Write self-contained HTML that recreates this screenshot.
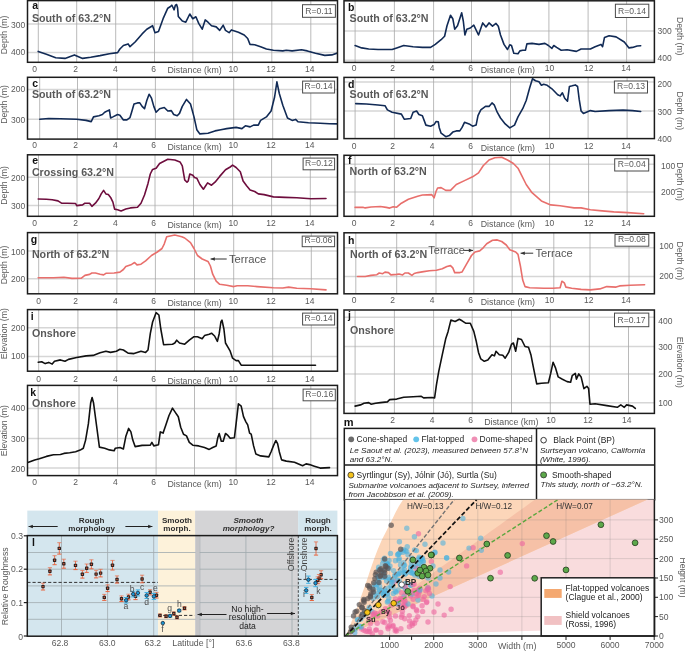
<!DOCTYPE html><html><head><meta charset="utf-8"><style>html,body{margin:0;padding:0;background:#fff;}svg{display:block;}</style></head><body><svg style="will-change:transform" width="685" height="652" viewBox="0 0 685 652" font-family='"Liberation Sans", sans-serif'>
<rect width="685" height="652" fill="#fff"/>
<clipPath id="ca"><rect x="27.5" y="0.6" width="310.0" height="61.699999999999996"/></clipPath>
<rect x="27.5" y="0.6" width="310.0" height="61.699999999999996" fill="#fff"/>
<g clip-path="url(#ca)">
<line x1="27.5" y1="24" x2="337.5" y2="24" stroke="#d6d6d6" stroke-width="1.5"/>
<line x1="27.5" y1="52.4" x2="337.5" y2="52.4" stroke="#d6d6d6" stroke-width="1.5"/>
<line x1="38.3" y1="0.6" x2="38.3" y2="62.3" stroke="#a8a8a8" stroke-width="0.8"/>
<line x1="76.7" y1="0.6" x2="76.7" y2="62.3" stroke="#a8a8a8" stroke-width="0.8"/>
<line x1="115.7" y1="0.6" x2="115.7" y2="62.3" stroke="#a8a8a8" stroke-width="0.8"/>
<line x1="154.5" y1="0.6" x2="154.5" y2="62.3" stroke="#a8a8a8" stroke-width="0.8"/>
<line x1="192.8" y1="0.6" x2="192.8" y2="62.3" stroke="#a8a8a8" stroke-width="0.8"/>
<line x1="232.6" y1="0.6" x2="232.6" y2="62.3" stroke="#a8a8a8" stroke-width="0.8"/>
<line x1="271.8" y1="0.6" x2="271.8" y2="62.3" stroke="#a8a8a8" stroke-width="0.8"/>
<line x1="310.8" y1="0.6" x2="310.8" y2="62.3" stroke="#a8a8a8" stroke-width="0.8"/>
<polyline points="38.2,51.4 46.4,54.2 55.7,57.7 65.0,58.4 74.4,54.9 82.6,58.4 90.7,57.2 100.0,55.6 109.4,53.7 117.6,52.6 119.9,49.0 123.4,45.5 128.1,43.9 130.0,46.7 135.1,42.0 142.1,33.9 146.8,29.2 152.6,25.7 155.0,32.7 158.5,31.5 163.1,18.7 167.8,8.2 170.5,6.5 171.8,5.2 173.0,7.5 174.1,9.8 175.3,5.5 176.6,4.5 177.6,8.0 178.3,16.4 182.3,21.0 185.8,22.2 189.8,14.0 192.8,18.7 195.9,16.8 198.7,23.4 202.2,29.2 205.2,19.9 208.0,22.2 211.5,25.7 216.2,26.9 219.7,30.4 223.2,25.2 225.5,30.4 229.1,32.7 231.4,29.9 238.4,32.2 244.2,35.0 247.7,38.5 250.0,44.4 254.7,44.8 260.6,46.7 266.4,49.0 273.4,50.2 282.8,50.9 286.3,50.2 292.1,50.9 301.5,49.8 307.3,50.9 315.5,53.3 324.8,55.4 331.8,54.9 338.0,52.8" fill="none" stroke="#112a55" stroke-width="1.6" stroke-linejoin="round" stroke-linecap="round"/>
</g>
<rect x="27.5" y="0.6" width="310.0" height="61.699999999999996" fill="none" stroke="#1c1c1c" stroke-width="1.5"/>
<text x="32.2" y="9.2" font-size="10.5" fill="#111" text-anchor="start" font-weight="bold" font-style="normal" >a</text>
<text x="31.9" y="21.5" font-size="10.7" fill="#595959" text-anchor="start" font-weight="bold" font-style="normal" >South of 63.2°N</text>
<rect x="302.5" y="4.7" width="32.9" height="12.6" fill="#fff" stroke="#4a4a4a" stroke-width="1"/>
<text x="318.9" y="13.5" font-size="8.6" fill="#5a5a5a" text-anchor="middle" font-weight="normal" font-style="normal" >R=0.11</text>
<text x="25.3" y="28.1" font-size="8.5" fill="#595959" text-anchor="end" font-weight="normal" font-style="normal" >300</text>
<text x="25.3" y="55.2" font-size="8.5" fill="#595959" text-anchor="end" font-weight="normal" font-style="normal" >400</text>
<text x="0" y="0" font-size="8.7" fill="#595959" text-anchor="middle" transform="translate(7.0,34.9) rotate(-90)">Depth (m)</text>
<text x="34.7" y="71.5" font-size="8.5" fill="#595959" text-anchor="middle" font-weight="normal" font-style="normal" >0</text>
<text x="75.6" y="71.5" font-size="8.5" fill="#595959" text-anchor="middle" font-weight="normal" font-style="normal" >2</text>
<text x="115.3" y="71.5" font-size="8.5" fill="#595959" text-anchor="middle" font-weight="normal" font-style="normal" >4</text>
<text x="153.7" y="71.5" font-size="8.5" fill="#595959" text-anchor="middle" font-weight="normal" font-style="normal" >6</text>
<text x="194.6" y="73.4" font-size="8.8" fill="#595959" text-anchor="middle" font-weight="normal" font-style="normal" >Distance (km)</text>
<text x="233.2" y="71.5" font-size="8.5" fill="#595959" text-anchor="middle" font-weight="normal" font-style="normal" >10</text>
<text x="270.9" y="71.5" font-size="8.5" fill="#595959" text-anchor="middle" font-weight="normal" font-style="normal" >12</text>
<text x="309.7" y="71.5" font-size="8.5" fill="#595959" text-anchor="middle" font-weight="normal" font-style="normal" >14</text>
<clipPath id="cb"><rect x="344.0" y="0.8" width="310.4" height="61.6"/></clipPath>
<rect x="344.0" y="0.8" width="310.4" height="61.6" fill="#fff"/>
<g clip-path="url(#cb)">
<line x1="344.0" y1="31" x2="654.4" y2="31" stroke="#d6d6d6" stroke-width="1.5"/>
<line x1="344.0" y1="60.2" x2="654.4" y2="60.2" stroke="#d6d6d6" stroke-width="1.5"/>
<line x1="355.1" y1="0.8" x2="355.1" y2="62.4" stroke="#a8a8a8" stroke-width="0.8"/>
<line x1="394.4" y1="0.8" x2="394.4" y2="62.4" stroke="#a8a8a8" stroke-width="0.8"/>
<line x1="433.6" y1="0.8" x2="433.6" y2="62.4" stroke="#a8a8a8" stroke-width="0.8"/>
<line x1="471.5" y1="0.8" x2="471.5" y2="62.4" stroke="#a8a8a8" stroke-width="0.8"/>
<line x1="509.1" y1="0.8" x2="509.1" y2="62.4" stroke="#a8a8a8" stroke-width="0.8"/>
<line x1="548.9" y1="0.8" x2="548.9" y2="62.4" stroke="#a8a8a8" stroke-width="0.8"/>
<line x1="588.1" y1="0.8" x2="588.1" y2="62.4" stroke="#a8a8a8" stroke-width="0.8"/>
<line x1="626.6" y1="0.8" x2="626.6" y2="62.4" stroke="#a8a8a8" stroke-width="0.8"/>
<polyline points="355.1,45.5 361.7,47.9 368.7,49.0 378.0,49.5 385.0,49.5 392.1,49.5 396.7,47.9 403.7,45.5 413.1,46.7 422.4,47.4 430.6,47.4 435.3,44.4 441.1,39.7 444.6,36.2 447.0,25.7 450.5,15.2 452.8,18.7 454.7,29.2 457.5,25.7 461.7,12.8 463.3,21.0 464.9,35.0 466.8,29.2 470.3,28.0 473.8,25.2 478.5,35.0 482.7,22.9 486.0,26.9 489.0,22.9 492.5,26.2 496.0,23.4 498.3,26.2 500.5,35.0 504.0,44.4 507.5,49.5 509.8,44.8 511.5,45.5 513.8,53.3 518.0,53.7 519.9,50.9 522.7,50.2 525.5,50.2 526.9,43.9 532.0,43.4 539.0,44.4 544.9,43.4 548.4,45.5 551.9,48.4 553.8,45.5 556.6,47.4 561.2,50.2 567.1,49.8 576.4,51.4 581.1,49.0 590.4,49.0 595.1,46.7 601.0,44.4 602.6,46.7 604.5,37.4 609.1,35.7 616.1,36.9 624.3,42.0 629.0,47.9 632.5,47.4 637.2,46.0 640.7,45.8" fill="none" stroke="#112a55" stroke-width="1.6" stroke-linejoin="round" stroke-linecap="round"/>
</g>
<rect x="344.0" y="0.8" width="310.4" height="61.6" fill="none" stroke="#1c1c1c" stroke-width="1.5"/>
<text x="348.1" y="11.2" font-size="10.5" fill="#111" text-anchor="start" font-weight="bold" font-style="normal" >b</text>
<text x="349.5" y="22.2" font-size="10.7" fill="#595959" text-anchor="start" font-weight="bold" font-style="normal" >South of 63.2°N</text>
<rect x="615.4" y="4.2" width="33.4" height="13.3" fill="#fff" stroke="#4a4a4a" stroke-width="1"/>
<text x="632.1" y="13.7" font-size="8.6" fill="#5a5a5a" text-anchor="middle" font-weight="normal" font-style="normal" >R=0.14</text>
<text x="657.6" y="33.5" font-size="8.5" fill="#595959" text-anchor="start" font-weight="normal" font-style="normal" >300</text>
<text x="657.6" y="61.4" font-size="8.5" fill="#595959" text-anchor="start" font-weight="normal" font-style="normal" >400</text>
<text x="0" y="0" font-size="8.7" fill="#595959" text-anchor="middle" transform="translate(677.0,36.2) rotate(90)">Depth (m)</text>
<text x="354.1" y="71.0" font-size="8.5" fill="#595959" text-anchor="middle" font-weight="normal" font-style="normal" >0</text>
<text x="392.6" y="71.0" font-size="8.5" fill="#595959" text-anchor="middle" font-weight="normal" font-style="normal" >2</text>
<text x="432.0" y="71.0" font-size="8.5" fill="#595959" text-anchor="middle" font-weight="normal" font-style="normal" >4</text>
<text x="470.5" y="71.0" font-size="8.5" fill="#595959" text-anchor="middle" font-weight="normal" font-style="normal" >6</text>
<text x="507.9" y="72.9" font-size="8.8" fill="#595959" text-anchor="middle" font-weight="normal" font-style="normal" >Distance (km)</text>
<text x="549.5" y="71.0" font-size="8.5" fill="#595959" text-anchor="middle" font-weight="normal" font-style="normal" >10</text>
<text x="588.8" y="71.0" font-size="8.5" fill="#595959" text-anchor="middle" font-weight="normal" font-style="normal" >12</text>
<text x="626.0" y="71.0" font-size="8.5" fill="#595959" text-anchor="middle" font-weight="normal" font-style="normal" >14</text>
<clipPath id="cc"><rect x="27.5" y="77.3" width="310.0" height="61.8"/></clipPath>
<rect x="27.5" y="77.3" width="310.0" height="61.8" fill="#fff"/>
<g clip-path="url(#cc)">
<line x1="27.5" y1="89.5" x2="337.5" y2="89.5" stroke="#d6d6d6" stroke-width="1.5"/>
<line x1="27.5" y1="119.2" x2="337.5" y2="119.2" stroke="#d6d6d6" stroke-width="1.5"/>
<line x1="39.7" y1="77.3" x2="39.7" y2="139.1" stroke="#a8a8a8" stroke-width="0.8"/>
<line x1="77.5" y1="77.3" x2="77.5" y2="139.1" stroke="#a8a8a8" stroke-width="0.8"/>
<line x1="117.3" y1="77.3" x2="117.3" y2="139.1" stroke="#a8a8a8" stroke-width="0.8"/>
<line x1="155.4" y1="77.3" x2="155.4" y2="139.1" stroke="#a8a8a8" stroke-width="0.8"/>
<line x1="193.5" y1="77.3" x2="193.5" y2="139.1" stroke="#a8a8a8" stroke-width="0.8"/>
<line x1="233.7" y1="77.3" x2="233.7" y2="139.1" stroke="#a8a8a8" stroke-width="0.8"/>
<line x1="272.7" y1="77.3" x2="272.7" y2="139.1" stroke="#a8a8a8" stroke-width="0.8"/>
<line x1="310.8" y1="77.3" x2="310.8" y2="139.1" stroke="#a8a8a8" stroke-width="0.8"/>
<polyline points="39.8,119.2 48.7,118.5 60.4,118.7 76.7,119.2 86.1,120.4 91.2,121.6 93.5,116.9 98.9,115.7 102.4,114.5 104.7,112.2 109.4,109.9 110.6,118.0 112.9,116.9 117.6,114.5 119.9,115.2 123.4,119.9 126.9,119.9 130.0,117.6 131.6,112.2 134.0,104.0 137.5,102.9 139.8,102.9 142.1,106.4 144.5,108.7 146.8,100.5 149.1,94.2 151.5,98.2 153.8,106.4 156.1,112.2 159.6,108.7 164.3,107.5 167.8,111.0 171.3,110.6 173.7,114.5 177.2,115.7 179.5,113.4 182.3,106.4 186.5,99.4 190.5,104.0 194.0,116.9 196.8,129.7 199.9,133.9 208.0,133.2 215.0,130.9 220.9,129.7 226.7,128.6 236.1,127.4 241.9,128.6 245.4,125.8 250.1,126.9 253.6,125.1 258.3,125.1 260.6,120.4 266.4,116.9 271.1,111.0 274.6,97.0 276.9,81.8 279.3,93.5 282.8,105.2 287.5,118.0 292.1,120.4 295.6,119.4 298.0,121.8 308.5,122.7 320.2,123.2 329.5,123.7 338.0,123.9" fill="none" stroke="#112a55" stroke-width="1.6" stroke-linejoin="round" stroke-linecap="round"/>
</g>
<rect x="27.5" y="77.3" width="310.0" height="61.8" fill="none" stroke="#1c1c1c" stroke-width="1.5"/>
<text x="32.2" y="86.5" font-size="10.5" fill="#111" text-anchor="start" font-weight="bold" font-style="normal" >c</text>
<text x="31.9" y="98.2" font-size="10.7" fill="#595959" text-anchor="start" font-weight="bold" font-style="normal" >South of 63.2°N</text>
<rect x="302.6" y="81.1" width="32.0" height="11.9" fill="#fff" stroke="#4a4a4a" stroke-width="1"/>
<text x="318.6" y="89.2" font-size="8.6" fill="#5a5a5a" text-anchor="middle" font-weight="normal" font-style="normal" >R=0.14</text>
<text x="25.3" y="92.3" font-size="8.5" fill="#595959" text-anchor="end" font-weight="normal" font-style="normal" >200</text>
<text x="25.3" y="122.6" font-size="8.5" fill="#595959" text-anchor="end" font-weight="normal" font-style="normal" >300</text>
<text x="0" y="0" font-size="8.7" fill="#595959" text-anchor="middle" transform="translate(7.0,104.5) rotate(-90)">Depth (m)</text>
<text x="34.7" y="147.6" font-size="8.5" fill="#595959" text-anchor="middle" font-weight="normal" font-style="normal" >0</text>
<text x="75.6" y="147.6" font-size="8.5" fill="#595959" text-anchor="middle" font-weight="normal" font-style="normal" >2</text>
<text x="115.3" y="147.6" font-size="8.5" fill="#595959" text-anchor="middle" font-weight="normal" font-style="normal" >4</text>
<text x="153.7" y="147.6" font-size="8.5" fill="#595959" text-anchor="middle" font-weight="normal" font-style="normal" >6</text>
<text x="194.6" y="149.5" font-size="8.8" fill="#595959" text-anchor="middle" font-weight="normal" font-style="normal" >Distance (km)</text>
<text x="233.2" y="147.6" font-size="8.5" fill="#595959" text-anchor="middle" font-weight="normal" font-style="normal" >10</text>
<text x="270.9" y="147.6" font-size="8.5" fill="#595959" text-anchor="middle" font-weight="normal" font-style="normal" >12</text>
<text x="309.7" y="147.6" font-size="8.5" fill="#595959" text-anchor="middle" font-weight="normal" font-style="normal" >14</text>
<clipPath id="cd"><rect x="344.0" y="77.4" width="310.4" height="61.19999999999999"/></clipPath>
<rect x="344.0" y="77.4" width="310.4" height="61.19999999999999" fill="#fff"/>
<g clip-path="url(#cd)">
<line x1="344.0" y1="82" x2="654.4" y2="82" stroke="#d6d6d6" stroke-width="1.5"/>
<line x1="344.0" y1="111" x2="654.4" y2="111" stroke="#d6d6d6" stroke-width="1.5"/>
<line x1="355.1" y1="77.4" x2="355.1" y2="138.6" stroke="#a8a8a8" stroke-width="0.8"/>
<line x1="394.4" y1="77.4" x2="394.4" y2="138.6" stroke="#a8a8a8" stroke-width="0.8"/>
<line x1="433.6" y1="77.4" x2="433.6" y2="138.6" stroke="#a8a8a8" stroke-width="0.8"/>
<line x1="472.2" y1="77.4" x2="472.2" y2="138.6" stroke="#a8a8a8" stroke-width="0.8"/>
<line x1="510.5" y1="77.4" x2="510.5" y2="138.6" stroke="#a8a8a8" stroke-width="0.8"/>
<line x1="549.6" y1="77.4" x2="549.6" y2="138.6" stroke="#a8a8a8" stroke-width="0.8"/>
<line x1="588.1" y1="77.4" x2="588.1" y2="138.6" stroke="#a8a8a8" stroke-width="0.8"/>
<line x1="627.1" y1="77.4" x2="627.1" y2="138.6" stroke="#a8a8a8" stroke-width="0.8"/>
<polyline points="355.8,103.6 366.4,104.0 378.0,105.0 385.0,105.7 387.4,109.9 392.1,112.2 401.4,114.1 404.2,119.2 410.7,118.5 413.1,112.2 416.6,111.0 418.9,114.5 422.4,115.7 425.9,125.1 430.6,126.2 434.1,124.6 436.0,121.6 438.3,121.8 439.2,127.4 441.1,133.2 445.8,136.7 449.3,135.6 452.8,132.1 456.3,130.9 459.8,130.9 462.1,127.4 464.5,122.3 469.1,123.9 472.6,126.2 476.1,125.1 478.0,115.7 480.8,109.9 485.5,106.4 489.0,106.4 492.0,102.9 494.4,105.2 497.2,112.2 500.5,118.0 505.2,123.9 509.8,127.9 514.5,125.1 518.0,116.9 522.7,108.7 526.2,100.5 529.7,87.7 532.5,78.8 535.5,80.7 539.0,81.8 541.4,85.3 543.7,84.2 547.2,85.3 551.9,88.8 557.7,94.7 560.1,95.9 562.4,92.8 564.7,98.2 567.5,101.2 569.4,86.5 572.2,85.8 575.3,84.9 577.6,86.5 579.2,99.4 581.1,111.0 583.4,113.4 590.4,110.6 595.1,111.5 609.1,110.6 623.1,110.1 632.5,110.6 640.7,111.5" fill="none" stroke="#112a55" stroke-width="1.6" stroke-linejoin="round" stroke-linecap="round"/>
</g>
<rect x="344.0" y="77.4" width="310.4" height="61.19999999999999" fill="none" stroke="#1c1c1c" stroke-width="1.5"/>
<text x="348.1" y="87.7" font-size="10.5" fill="#111" text-anchor="start" font-weight="bold" font-style="normal" >d</text>
<text x="349.5" y="98.2" font-size="10.7" fill="#595959" text-anchor="start" font-weight="bold" font-style="normal" >South of 63.2°N</text>
<rect x="614.4" y="81.0" width="33.1" height="12.0" fill="#fff" stroke="#4a4a4a" stroke-width="1"/>
<text x="631.0" y="89.2" font-size="8.6" fill="#5a5a5a" text-anchor="middle" font-weight="normal" font-style="normal" >R=0.13</text>
<text x="657.6" y="86.9" font-size="8.5" fill="#595959" text-anchor="start" font-weight="normal" font-style="normal" >200</text>
<text x="657.6" y="114.5" font-size="8.5" fill="#595959" text-anchor="start" font-weight="normal" font-style="normal" >300</text>
<text x="657.6" y="142.1" font-size="8.5" fill="#595959" text-anchor="start" font-weight="normal" font-style="normal" >400</text>
<text x="0" y="0" font-size="8.7" fill="#595959" text-anchor="middle" transform="translate(677.0,110.8) rotate(90)">Depth (m)</text>
<text x="354.1" y="148.9" font-size="8.5" fill="#595959" text-anchor="middle" font-weight="normal" font-style="normal" >0</text>
<text x="392.6" y="148.9" font-size="8.5" fill="#595959" text-anchor="middle" font-weight="normal" font-style="normal" >2</text>
<text x="432.0" y="148.9" font-size="8.5" fill="#595959" text-anchor="middle" font-weight="normal" font-style="normal" >4</text>
<text x="470.5" y="148.9" font-size="8.5" fill="#595959" text-anchor="middle" font-weight="normal" font-style="normal" >6</text>
<text x="507.9" y="150.8" font-size="8.8" fill="#595959" text-anchor="middle" font-weight="normal" font-style="normal" >Distance (km)</text>
<text x="549.5" y="148.9" font-size="8.5" fill="#595959" text-anchor="middle" font-weight="normal" font-style="normal" >10</text>
<text x="588.8" y="148.9" font-size="8.5" fill="#595959" text-anchor="middle" font-weight="normal" font-style="normal" >12</text>
<text x="626.0" y="148.9" font-size="8.5" fill="#595959" text-anchor="middle" font-weight="normal" font-style="normal" >14</text>
<clipPath id="ce"><rect x="27.5" y="154.8" width="310.0" height="61.5"/></clipPath>
<rect x="27.5" y="154.8" width="310.0" height="61.5" fill="#fff"/>
<g clip-path="url(#ce)">
<line x1="27.5" y1="177.3" x2="337.5" y2="177.3" stroke="#d6d6d6" stroke-width="1.5"/>
<line x1="27.5" y1="205.6" x2="337.5" y2="205.6" stroke="#d6d6d6" stroke-width="1.5"/>
<line x1="38.5" y1="154.8" x2="38.5" y2="216.3" stroke="#a8a8a8" stroke-width="0.8"/>
<line x1="77.0" y1="154.8" x2="77.0" y2="216.3" stroke="#a8a8a8" stroke-width="0.8"/>
<line x1="116.0" y1="154.8" x2="116.0" y2="216.3" stroke="#a8a8a8" stroke-width="0.8"/>
<line x1="155.0" y1="154.8" x2="155.0" y2="216.3" stroke="#a8a8a8" stroke-width="0.8"/>
<line x1="193.5" y1="154.8" x2="193.5" y2="216.3" stroke="#a8a8a8" stroke-width="0.8"/>
<line x1="232.6" y1="154.8" x2="232.6" y2="216.3" stroke="#a8a8a8" stroke-width="0.8"/>
<line x1="271.6" y1="154.8" x2="271.6" y2="216.3" stroke="#a8a8a8" stroke-width="0.8"/>
<line x1="310.3" y1="154.8" x2="310.3" y2="216.3" stroke="#a8a8a8" stroke-width="0.8"/>
<polyline points="38.2,199.0 46.4,199.3 52.2,199.7 58.0,200.9 61.5,203.2 67.4,203.2 75.6,203.5 76.7,205.6 82.6,204.9 84.9,203.2 89.6,203.2 91.9,206.3 95.4,203.2 98.9,198.5 101.2,193.9 103.6,190.4 105.9,193.9 108.3,194.6 110.6,197.4 112.9,202.1 114.6,209.1 117.6,209.8 121.1,210.9 125.8,209.1 130.4,207.9 137.5,207.2 141.0,203.2 144.5,195.0 148.0,183.4 150.3,174.0 152.6,169.4 156.1,168.2 159.6,163.5 167.8,159.3 174.8,160.0 180.0,161.9 182.3,165.8 184.7,179.9 187.0,182.2 188.2,181.0 189.8,174.0 192.8,175.2 194.5,177.5 196.8,178.2 199.9,184.5 203.4,189.2 205.7,185.7 207.6,182.9 211.5,185.2 215.0,182.2 219.7,176.4 225.5,169.8 230.2,167.0 232.6,165.1 236.1,167.5 240.3,171.7 243.1,181.0 246.6,185.7 250.1,189.9 254.7,191.5 258.3,193.9 264.1,194.6 273.4,196.9 285.1,197.4 296.8,197.8 310.8,198.8 326.0,198.5" fill="none" stroke="#6e0d3d" stroke-width="1.6" stroke-linejoin="round" stroke-linecap="round"/>
</g>
<rect x="27.5" y="154.8" width="310.0" height="61.5" fill="none" stroke="#1c1c1c" stroke-width="1.5"/>
<text x="32.2" y="163.5" font-size="10.5" fill="#111" text-anchor="start" font-weight="bold" font-style="normal" >e</text>
<text x="31.9" y="175.7" font-size="10.7" fill="#595959" text-anchor="start" font-weight="bold" font-style="normal" >Crossing 63.2°N</text>
<rect x="303.1" y="158.1" width="31.5" height="11.7" fill="#fff" stroke="#4a4a4a" stroke-width="1"/>
<text x="318.9" y="166.0" font-size="8.6" fill="#5a5a5a" text-anchor="middle" font-weight="normal" font-style="normal" >R=0.12</text>
<text x="25.3" y="181.2" font-size="8.5" fill="#595959" text-anchor="end" font-weight="normal" font-style="normal" >200</text>
<text x="25.3" y="209.2" font-size="8.5" fill="#595959" text-anchor="end" font-weight="normal" font-style="normal" >300</text>
<text x="0" y="0" font-size="8.7" fill="#595959" text-anchor="middle" transform="translate(7.0,185.4) rotate(-90)">Depth (m)</text>
<text x="34.7" y="226.1" font-size="8.5" fill="#595959" text-anchor="middle" font-weight="normal" font-style="normal" >0</text>
<text x="75.6" y="226.1" font-size="8.5" fill="#595959" text-anchor="middle" font-weight="normal" font-style="normal" >2</text>
<text x="115.3" y="226.1" font-size="8.5" fill="#595959" text-anchor="middle" font-weight="normal" font-style="normal" >4</text>
<text x="153.7" y="226.1" font-size="8.5" fill="#595959" text-anchor="middle" font-weight="normal" font-style="normal" >6</text>
<text x="194.6" y="228.0" font-size="8.8" fill="#595959" text-anchor="middle" font-weight="normal" font-style="normal" >Distance (km)</text>
<text x="233.2" y="226.1" font-size="8.5" fill="#595959" text-anchor="middle" font-weight="normal" font-style="normal" >10</text>
<text x="270.9" y="226.1" font-size="8.5" fill="#595959" text-anchor="middle" font-weight="normal" font-style="normal" >12</text>
<text x="309.7" y="226.1" font-size="8.5" fill="#595959" text-anchor="middle" font-weight="normal" font-style="normal" >14</text>
<clipPath id="cf"><rect x="344.0" y="155.3" width="310.4" height="61.0"/></clipPath>
<rect x="344.0" y="155.3" width="310.4" height="61.0" fill="#fff"/>
<g clip-path="url(#cf)">
<line x1="344.0" y1="164.2" x2="654.4" y2="164.2" stroke="#d6d6d6" stroke-width="1.5"/>
<line x1="344.0" y1="192" x2="654.4" y2="192" stroke="#d6d6d6" stroke-width="1.5"/>
<line x1="355.0" y1="155.3" x2="355.0" y2="216.3" stroke="#a8a8a8" stroke-width="0.8"/>
<line x1="394.4" y1="155.3" x2="394.4" y2="216.3" stroke="#a8a8a8" stroke-width="0.8"/>
<line x1="433.6" y1="155.3" x2="433.6" y2="216.3" stroke="#a8a8a8" stroke-width="0.8"/>
<line x1="472.2" y1="155.3" x2="472.2" y2="216.3" stroke="#a8a8a8" stroke-width="0.8"/>
<line x1="511.0" y1="155.3" x2="511.0" y2="216.3" stroke="#a8a8a8" stroke-width="0.8"/>
<line x1="549.6" y1="155.3" x2="549.6" y2="216.3" stroke="#a8a8a8" stroke-width="0.8"/>
<line x1="588.6" y1="155.3" x2="588.6" y2="216.3" stroke="#a8a8a8" stroke-width="0.8"/>
<line x1="627.1" y1="155.3" x2="627.1" y2="216.3" stroke="#a8a8a8" stroke-width="0.8"/>
<polyline points="355.1,207.4 362.9,207.2 365.2,207.9 371.0,207.0 380.4,206.5 386.2,207.4 389.7,208.1 393.2,206.7 396.7,207.2 401.4,203.2 408.4,199.3 417.7,196.2 422.4,195.0 431.8,194.6 434.1,197.8 436.0,191.5 437.6,188.0 441.1,187.6 445.8,190.4 450.5,190.4 456.3,184.5 464.5,180.6 472.6,176.8 478.5,172.9 483.2,165.8 489.0,160.0 494.8,157.7 501.7,157.2 507.5,160.0 513.4,163.5 518.0,168.2 521.5,175.2 526.2,184.5 532.0,192.7 541.4,200.9 550.7,204.9 560.1,205.8 574.1,207.9 581.1,207.9 590.4,209.8 602.1,210.9 613.8,211.9 627.8,212.6 643.7,213.7" fill="none" stroke="#e86f6c" stroke-width="1.6" stroke-linejoin="round" stroke-linecap="round"/>
</g>
<rect x="344.0" y="155.3" width="310.4" height="61.0" fill="none" stroke="#1c1c1c" stroke-width="1.5"/>
<text x="348.1" y="164.2" font-size="10.5" fill="#111" text-anchor="start" font-weight="bold" font-style="normal" >f</text>
<text x="349.5" y="175.2" font-size="10.7" fill="#595959" text-anchor="start" font-weight="bold" font-style="normal" >North of 63.2°N</text>
<rect x="614.7" y="158.8" width="34.0" height="12.2" fill="#fff" stroke="#4a4a4a" stroke-width="1"/>
<text x="631.7" y="167.2" font-size="8.6" fill="#5a5a5a" text-anchor="middle" font-weight="normal" font-style="normal" >R=0.04</text>
<text x="661.0" y="168.6" font-size="8.5" fill="#595959" text-anchor="start" font-weight="normal" font-style="normal" >100</text>
<text x="661.0" y="195.0" font-size="8.5" fill="#595959" text-anchor="start" font-weight="normal" font-style="normal" >200</text>
<text x="0" y="0" font-size="8.7" fill="#595959" text-anchor="middle" transform="translate(677.0,181.5) rotate(90)">Depth (m)</text>
<text x="354.1" y="225.5" font-size="8.5" fill="#595959" text-anchor="middle" font-weight="normal" font-style="normal" >0</text>
<text x="392.6" y="225.5" font-size="8.5" fill="#595959" text-anchor="middle" font-weight="normal" font-style="normal" >2</text>
<text x="432.0" y="225.5" font-size="8.5" fill="#595959" text-anchor="middle" font-weight="normal" font-style="normal" >4</text>
<text x="470.5" y="225.5" font-size="8.5" fill="#595959" text-anchor="middle" font-weight="normal" font-style="normal" >6</text>
<text x="507.9" y="227.4" font-size="8.8" fill="#595959" text-anchor="middle" font-weight="normal" font-style="normal" >Distance (km)</text>
<text x="549.5" y="225.5" font-size="8.5" fill="#595959" text-anchor="middle" font-weight="normal" font-style="normal" >10</text>
<text x="588.8" y="225.5" font-size="8.5" fill="#595959" text-anchor="middle" font-weight="normal" font-style="normal" >12</text>
<text x="626.0" y="225.5" font-size="8.5" fill="#595959" text-anchor="middle" font-weight="normal" font-style="normal" >14</text>
<clipPath id="cg"><rect x="27.5" y="232.6" width="310.0" height="61.20000000000002"/></clipPath>
<rect x="27.5" y="232.6" width="310.0" height="61.20000000000002" fill="#fff"/>
<g clip-path="url(#cg)">
<line x1="27.5" y1="251" x2="337.5" y2="251" stroke="#d6d6d6" stroke-width="1.5"/>
<line x1="27.5" y1="278.7" x2="337.5" y2="278.7" stroke="#d6d6d6" stroke-width="1.5"/>
<line x1="38.7" y1="232.6" x2="38.7" y2="293.8" stroke="#a8a8a8" stroke-width="0.8"/>
<line x1="77.7" y1="232.6" x2="77.7" y2="293.8" stroke="#a8a8a8" stroke-width="0.8"/>
<line x1="116.9" y1="232.6" x2="116.9" y2="293.8" stroke="#a8a8a8" stroke-width="0.8"/>
<line x1="155.4" y1="232.6" x2="155.4" y2="293.8" stroke="#a8a8a8" stroke-width="0.8"/>
<line x1="194.5" y1="232.6" x2="194.5" y2="293.8" stroke="#a8a8a8" stroke-width="0.8"/>
<line x1="233.7" y1="232.6" x2="233.7" y2="293.8" stroke="#a8a8a8" stroke-width="0.8"/>
<line x1="272.7" y1="232.6" x2="272.7" y2="293.8" stroke="#a8a8a8" stroke-width="0.8"/>
<line x1="311.3" y1="232.6" x2="311.3" y2="293.8" stroke="#a8a8a8" stroke-width="0.8"/>
<polyline points="38.2,277.7 53.4,277.7 63.9,277.3 72.0,278.4 81.4,278.2 84.9,275.4 89.6,274.4 91.9,273.0 95.4,273.0 100.1,274.2 103.6,274.9 105.9,273.3 114.1,273.0 119.9,272.1 123.4,269.5 125.8,266.5 131.6,264.4 134.6,262.5 137.0,264.9 141.0,264.2 145.6,260.9 151.5,255.5 157.3,252.0 162.0,248.5 164.3,243.8 166.7,236.8 174.8,235.0 181.8,236.8 184.7,238.0 190.5,242.7 194.0,248.5 197.5,255.5 202.2,259.0 208.0,261.4 210.4,266.0 212.7,274.2 216.2,281.2 219.7,284.3 226.7,285.2 233.7,286.6 237.2,285.7 247.7,285.7 257.1,286.6 273.4,287.8 282.8,288.0 288.6,287.1 296.8,288.2 310.8,288.7 326.0,289.9" fill="none" stroke="#e86f6c" stroke-width="1.6" stroke-linejoin="round" stroke-linecap="round"/>
</g>
<rect x="27.5" y="232.6" width="310.0" height="61.20000000000002" fill="none" stroke="#1c1c1c" stroke-width="1.5"/>
<text x="30.8" y="242.7" font-size="10.5" fill="#111" text-anchor="start" font-weight="bold" font-style="normal" >g</text>
<text x="31.9" y="258.3" font-size="10.7" fill="#595959" text-anchor="start" font-weight="bold" font-style="normal" >North of 63.2°N</text>
<rect x="302.2" y="236.1" width="32.4" height="10.6" fill="#fff" stroke="#4a4a4a" stroke-width="1"/>
<text x="318.4" y="242.9" font-size="8.6" fill="#5a5a5a" text-anchor="middle" font-weight="normal" font-style="normal" >R=0.06</text>
<text x="25.3" y="254.5" font-size="8.5" fill="#595959" text-anchor="end" font-weight="normal" font-style="normal" >100</text>
<text x="25.3" y="281.5" font-size="8.5" fill="#595959" text-anchor="end" font-weight="normal" font-style="normal" >200</text>
<text x="0" y="0" font-size="8.7" fill="#595959" text-anchor="middle" transform="translate(7.0,265.0) rotate(-90)">Depth (m)</text>
<text x="38.5" y="303.6" font-size="8.5" fill="#595959" text-anchor="middle" font-weight="normal" font-style="normal" >0</text>
<text x="75.6" y="303.6" font-size="8.5" fill="#595959" text-anchor="middle" font-weight="normal" font-style="normal" >2</text>
<text x="115.3" y="303.6" font-size="8.5" fill="#595959" text-anchor="middle" font-weight="normal" font-style="normal" >4</text>
<text x="153.7" y="303.6" font-size="8.5" fill="#595959" text-anchor="middle" font-weight="normal" font-style="normal" >6</text>
<text x="194.6" y="305.5" font-size="8.8" fill="#595959" text-anchor="middle" font-weight="normal" font-style="normal" >Distance (km)</text>
<text x="233.2" y="303.6" font-size="8.5" fill="#595959" text-anchor="middle" font-weight="normal" font-style="normal" >10</text>
<text x="270.9" y="303.6" font-size="8.5" fill="#595959" text-anchor="middle" font-weight="normal" font-style="normal" >12</text>
<text x="309.7" y="303.6" font-size="8.5" fill="#595959" text-anchor="middle" font-weight="normal" font-style="normal" >14</text>
<clipPath id="ch"><rect x="344.0" y="232.8" width="310.4" height="61.0"/></clipPath>
<rect x="344.0" y="232.8" width="310.4" height="61.0" fill="#fff"/>
<g clip-path="url(#ch)">
<line x1="344.0" y1="247.8" x2="654.4" y2="247.8" stroke="#d6d6d6" stroke-width="1.5"/>
<line x1="344.0" y1="276.4" x2="654.4" y2="276.4" stroke="#d6d6d6" stroke-width="1.5"/>
<line x1="355.8" y1="232.8" x2="355.8" y2="293.8" stroke="#a8a8a8" stroke-width="0.8"/>
<line x1="396.7" y1="232.8" x2="396.7" y2="293.8" stroke="#a8a8a8" stroke-width="0.8"/>
<line x1="436.0" y1="232.8" x2="436.0" y2="293.8" stroke="#a8a8a8" stroke-width="0.8"/>
<line x1="473.8" y1="232.8" x2="473.8" y2="293.8" stroke="#a8a8a8" stroke-width="0.8"/>
<line x1="512.2" y1="232.8" x2="512.2" y2="293.8" stroke="#a8a8a8" stroke-width="0.8"/>
<line x1="553.8" y1="232.8" x2="553.8" y2="293.8" stroke="#a8a8a8" stroke-width="0.8"/>
<line x1="590.0" y1="232.8" x2="590.0" y2="293.8" stroke="#a8a8a8" stroke-width="0.8"/>
<line x1="629.0" y1="232.8" x2="629.0" y2="293.8" stroke="#a8a8a8" stroke-width="0.8"/>
<polyline points="357.5,276.5 365.2,276.5 371.0,275.4 376.9,274.7 379.2,273.0 382.7,273.7 385.0,272.1 388.5,272.6 390.9,274.9 396.7,274.4 399.1,274.0 402.6,274.9 404.9,273.0 408.4,273.0 411.9,275.4 414.2,273.5 417.7,272.6 423.6,271.6 429.4,270.7 436.4,270.2 442.3,268.8 446.9,266.5 450.5,265.6 452.8,267.9 454.7,272.6 459.8,272.6 462.1,271.9 466.8,263.7 471.5,255.5 475.0,252.0 479.7,250.9 483.2,247.8 486.7,243.8 492.5,240.3 497.2,239.9 501.7,241.5 506.3,245.0 509.8,249.7 515.7,252.0 518.0,254.4 520.4,266.0 522.7,280.1 525.0,286.6 529.7,287.8 543.7,288.2 553.1,288.2 560.1,287.8 561.9,281.2 564.3,282.9 565.9,287.1 571.7,288.2 581.1,289.4 590.4,289.9 599.8,288.9 606.8,286.6 616.1,287.1 619.6,285.9 630.1,285.2 644.6,284.7" fill="none" stroke="#e86f6c" stroke-width="1.6" stroke-linejoin="round" stroke-linecap="round"/>
</g>
<rect x="344.0" y="232.8" width="310.4" height="61.0" fill="none" stroke="#1c1c1c" stroke-width="1.5"/>
<text x="348.1" y="243.8" font-size="10.5" fill="#111" text-anchor="start" font-weight="bold" font-style="normal" >h</text>
<text x="350.0" y="257.9" font-size="10.7" fill="#595959" text-anchor="start" font-weight="bold" font-style="normal" >North of 63.2°N</text>
<rect x="615.0" y="234.5" width="33.8" height="11.7" fill="#fff" stroke="#4a4a4a" stroke-width="1"/>
<text x="631.9" y="242.4" font-size="8.6" fill="#5a5a5a" text-anchor="middle" font-weight="normal" font-style="normal" >R=0.08</text>
<text x="659.3" y="249.1" font-size="8.5" fill="#595959" text-anchor="start" font-weight="normal" font-style="normal" >100</text>
<text x="659.3" y="278.6" font-size="8.5" fill="#595959" text-anchor="start" font-weight="normal" font-style="normal" >200</text>
<text x="0" y="0" font-size="8.7" fill="#595959" text-anchor="middle" transform="translate(677.0,260.8) rotate(90)">Depth (m)</text>
<text x="354.1" y="302.7" font-size="8.5" fill="#595959" text-anchor="middle" font-weight="normal" font-style="normal" >0</text>
<text x="392.6" y="302.7" font-size="8.5" fill="#595959" text-anchor="middle" font-weight="normal" font-style="normal" >2</text>
<text x="432.0" y="302.7" font-size="8.5" fill="#595959" text-anchor="middle" font-weight="normal" font-style="normal" >4</text>
<text x="470.5" y="302.7" font-size="8.5" fill="#595959" text-anchor="middle" font-weight="normal" font-style="normal" >6</text>
<text x="507.9" y="304.6" font-size="8.8" fill="#595959" text-anchor="middle" font-weight="normal" font-style="normal" >Distance (km)</text>
<text x="549.5" y="302.7" font-size="8.5" fill="#595959" text-anchor="middle" font-weight="normal" font-style="normal" >10</text>
<text x="588.8" y="302.7" font-size="8.5" fill="#595959" text-anchor="middle" font-weight="normal" font-style="normal" >12</text>
<text x="626.0" y="302.7" font-size="8.5" fill="#595959" text-anchor="middle" font-weight="normal" font-style="normal" >14</text>
<clipPath id="ci"><rect x="27.5" y="309.6" width="310.0" height="61.599999999999966"/></clipPath>
<rect x="27.5" y="309.6" width="310.0" height="61.599999999999966" fill="#fff"/>
<g clip-path="url(#ci)">
<line x1="27.5" y1="327.8" x2="337.5" y2="327.8" stroke="#d6d6d6" stroke-width="1.5"/>
<line x1="27.5" y1="356.5" x2="337.5" y2="356.5" stroke="#d6d6d6" stroke-width="1.5"/>
<line x1="38.7" y1="309.6" x2="38.7" y2="371.2" stroke="#a8a8a8" stroke-width="0.8"/>
<line x1="77.9" y1="309.6" x2="77.9" y2="371.2" stroke="#a8a8a8" stroke-width="0.8"/>
<line x1="116.9" y1="309.6" x2="116.9" y2="371.2" stroke="#a8a8a8" stroke-width="0.8"/>
<line x1="155.4" y1="309.6" x2="155.4" y2="371.2" stroke="#a8a8a8" stroke-width="0.8"/>
<line x1="194.5" y1="309.6" x2="194.5" y2="371.2" stroke="#a8a8a8" stroke-width="0.8"/>
<line x1="233.7" y1="309.6" x2="233.7" y2="371.2" stroke="#a8a8a8" stroke-width="0.8"/>
<line x1="272.7" y1="309.6" x2="272.7" y2="371.2" stroke="#a8a8a8" stroke-width="0.8"/>
<line x1="311.3" y1="309.6" x2="311.3" y2="371.2" stroke="#a8a8a8" stroke-width="0.8"/>
<polyline points="38.2,362.2 41.7,361.7 45.2,363.6 48.7,362.4 52.2,364.1 54.5,361.3 60.4,359.9 65.0,361.3 68.5,359.4 76.7,357.5 86.1,355.9 93.1,355.4 100.1,352.8 105.9,351.2 110.6,352.4 116.4,351.2 119.9,349.3 123.4,350.0 128.1,353.1 134.0,353.6 141.0,351.2 145.6,352.4 148.0,350.0 150.3,333.7 152.6,322.0 156.1,312.7 158.9,315.0 160.8,329.0 163.6,344.7 172.5,344.2 174.8,343.0 176.7,340.2 179.5,343.0 184.7,344.2 189.3,340.2 194.0,336.7 197.5,336.7 202.2,338.8 204.5,335.6 209.2,334.2 211.5,333.2 214.6,336.0 217.4,341.4 219.2,333.7 220.9,322.0 222.0,320.1 223.9,329.0 225.5,343.0 227.9,347.2 230.2,351.2 232.6,358.2 236.1,360.6 238.4,360.6 241.2,365.2 315.5,365.2" fill="none" stroke="#111111" stroke-width="1.6" stroke-linejoin="round" stroke-linecap="round"/>
</g>
<rect x="27.5" y="309.6" width="310.0" height="61.599999999999966" fill="none" stroke="#1c1c1c" stroke-width="1.5"/>
<text x="30.8" y="319.7" font-size="10.5" fill="#111" text-anchor="start" font-weight="bold" font-style="normal" >i</text>
<text x="31.9" y="336.5" font-size="10.7" fill="#595959" text-anchor="start" font-weight="bold" font-style="normal" >Onshore</text>
<rect x="302.6" y="313.1" width="32.0" height="11.9" fill="#fff" stroke="#4a4a4a" stroke-width="1"/>
<text x="318.6" y="321.2" font-size="8.6" fill="#5a5a5a" text-anchor="middle" font-weight="normal" font-style="normal" >R=0.14</text>
<text x="25.3" y="331.1" font-size="8.5" fill="#595959" text-anchor="end" font-weight="normal" font-style="normal" >200</text>
<text x="25.3" y="358.5" font-size="8.5" fill="#595959" text-anchor="end" font-weight="normal" font-style="normal" >100</text>
<text x="0" y="0" font-size="8.7" fill="#595959" text-anchor="middle" transform="translate(7.0,333.7) rotate(-90)">Elevation (m)</text>
<text x="38.5" y="381.8" font-size="8.5" fill="#595959" text-anchor="middle" font-weight="normal" font-style="normal" >0</text>
<text x="75.6" y="381.8" font-size="8.5" fill="#595959" text-anchor="middle" font-weight="normal" font-style="normal" >2</text>
<text x="115.3" y="381.8" font-size="8.5" fill="#595959" text-anchor="middle" font-weight="normal" font-style="normal" >4</text>
<text x="153.7" y="381.8" font-size="8.5" fill="#595959" text-anchor="middle" font-weight="normal" font-style="normal" >6</text>
<text x="194.6" y="383.7" font-size="8.8" fill="#595959" text-anchor="middle" font-weight="normal" font-style="normal" >Distance (km)</text>
<text x="233.2" y="381.8" font-size="8.5" fill="#595959" text-anchor="middle" font-weight="normal" font-style="normal" >10</text>
<text x="270.9" y="381.8" font-size="8.5" fill="#595959" text-anchor="middle" font-weight="normal" font-style="normal" >12</text>
<text x="309.7" y="381.8" font-size="8.5" fill="#595959" text-anchor="middle" font-weight="normal" font-style="normal" >14</text>
<clipPath id="cj"><rect x="344.0" y="310.0" width="310.4" height="103.39999999999998"/></clipPath>
<rect x="344.0" y="310.0" width="310.4" height="103.39999999999998" fill="#fff"/>
<g clip-path="url(#cj)">
<line x1="344.0" y1="317.3" x2="654.4" y2="317.3" stroke="#d6d6d6" stroke-width="1.5"/>
<line x1="344.0" y1="346.4" x2="654.4" y2="346.4" stroke="#d6d6d6" stroke-width="1.5"/>
<line x1="344.0" y1="374.1" x2="654.4" y2="374.1" stroke="#d6d6d6" stroke-width="1.5"/>
<line x1="344.0" y1="402.8" x2="654.4" y2="402.8" stroke="#d6d6d6" stroke-width="1.5"/>
<line x1="355.1" y1="310.0" x2="355.1" y2="413.4" stroke="#a8a8a8" stroke-width="0.8"/>
<line x1="394.4" y1="310.0" x2="394.4" y2="413.4" stroke="#a8a8a8" stroke-width="0.8"/>
<line x1="433.6" y1="310.0" x2="433.6" y2="413.4" stroke="#a8a8a8" stroke-width="0.8"/>
<line x1="472.2" y1="310.0" x2="472.2" y2="413.4" stroke="#a8a8a8" stroke-width="0.8"/>
<line x1="511.5" y1="310.0" x2="511.5" y2="413.4" stroke="#a8a8a8" stroke-width="0.8"/>
<line x1="550.3" y1="310.0" x2="550.3" y2="413.4" stroke="#a8a8a8" stroke-width="0.8"/>
<line x1="589.3" y1="310.0" x2="589.3" y2="413.4" stroke="#a8a8a8" stroke-width="0.8"/>
<line x1="628.5" y1="310.0" x2="628.5" y2="413.4" stroke="#a8a8a8" stroke-width="0.8"/>
<polyline points="355.1,406.1 360.5,404.9 364.0,403.3 368.7,402.6 371.0,404.2 375.7,403.3 380.4,402.6 387.4,401.9 389.7,399.6 396.7,399.1 403.7,397.2 413.1,396.8 421.3,396.3 423.6,397.9 431.8,397.5 434.6,397.9 436.4,385.1 438.8,371.1 442.3,354.7 445.8,338.4 448.1,331.4 450.9,320.1 455.1,321.5 459.3,319.2 462.1,320.8 465.6,323.2 470.3,323.2 473.8,331.4 476.1,340.7 478.5,352.4 480.8,358.9 484.3,361.3 487.8,359.9 492.0,354.7 494.4,355.9 496.0,351.2 499.3,354.7 502.8,355.2 505.2,358.2 508.7,352.4 511.5,344.2 513.4,343.0 515.7,351.2 518.0,338.4 521.5,339.5 525.0,346.5 528.5,347.2 530.9,354.7 533.2,366.4 536.7,383.9 541.4,383.2 548.4,382.7 550.7,373.4 553.1,362.2 555.4,367.6 558.2,376.9 562.4,379.2 567.1,381.6 570.6,382.3 572.2,375.7 575.3,373.4 576.4,379.2 578.8,373.9 581.1,376.9 583.9,388.6 586.9,386.3 588.6,388.6 590.0,404.2 595.1,403.8 606.8,405.6 617.3,407.3 620.8,404.9 624.3,407.3 626.6,404.9 632.5,406.1 635.3,408.4" fill="none" stroke="#111111" stroke-width="1.6" stroke-linejoin="round" stroke-linecap="round"/>
</g>
<rect x="344.0" y="310.0" width="310.4" height="103.39999999999998" fill="none" stroke="#1c1c1c" stroke-width="1.5"/>
<text x="348.1" y="319.0" font-size="10.5" fill="#111" text-anchor="start" font-weight="bold" font-style="normal" >j</text>
<text x="350.0" y="334.2" font-size="10.7" fill="#595959" text-anchor="start" font-weight="bold" font-style="normal" >Onshore</text>
<rect x="614.5" y="313.1" width="34.3" height="13.6" fill="#fff" stroke="#4a4a4a" stroke-width="1"/>
<text x="631.6" y="322.9" font-size="8.6" fill="#5a5a5a" text-anchor="middle" font-weight="normal" font-style="normal" >R=0.17</text>
<text x="658.2" y="323.5" font-size="8.5" fill="#595959" text-anchor="start" font-weight="normal" font-style="normal" >400</text>
<text x="658.2" y="350.0" font-size="8.5" fill="#595959" text-anchor="start" font-weight="normal" font-style="normal" >300</text>
<text x="658.2" y="377.3" font-size="8.5" fill="#595959" text-anchor="start" font-weight="normal" font-style="normal" >200</text>
<text x="658.2" y="406.4" font-size="8.5" fill="#595959" text-anchor="start" font-weight="normal" font-style="normal" >100</text>
<text x="0" y="0" font-size="8.7" fill="#595959" text-anchor="middle" transform="translate(677.0,362.3) rotate(90)">Elevation (m)</text>
<text x="392.6" y="423.2" font-size="8.5" fill="#595959" text-anchor="middle" font-weight="normal" font-style="normal" >2</text>
<text x="432.2" y="423.2" font-size="8.5" fill="#595959" text-anchor="middle" font-weight="normal" font-style="normal" >4</text>
<text x="470.7" y="423.2" font-size="8.5" fill="#595959" text-anchor="middle" font-weight="normal" font-style="normal" >6</text>
<text x="511.3" y="425.1" font-size="8.8" fill="#595959" text-anchor="middle" font-weight="normal" font-style="normal" >Distance (km)</text>
<text x="551.0" y="423.2" font-size="8.5" fill="#595959" text-anchor="middle" font-weight="normal" font-style="normal" >10</text>
<text x="587.9" y="423.2" font-size="8.5" fill="#595959" text-anchor="middle" font-weight="normal" font-style="normal" >12</text>
<text x="626.8" y="423.2" font-size="8.5" fill="#595959" text-anchor="middle" font-weight="normal" font-style="normal" >14</text>
<clipPath id="ck"><rect x="27.5" y="385.4" width="310.0" height="90.20000000000005"/></clipPath>
<rect x="27.5" y="385.4" width="310.0" height="90.20000000000005" fill="#fff"/>
<g clip-path="url(#ck)">
<line x1="27.5" y1="408.5" x2="337.5" y2="408.5" stroke="#d6d6d6" stroke-width="1.5"/>
<line x1="27.5" y1="438.4" x2="337.5" y2="438.4" stroke="#d6d6d6" stroke-width="1.5"/>
<line x1="27.5" y1="468.1" x2="337.5" y2="468.1" stroke="#d6d6d6" stroke-width="1.5"/>
<line x1="38.2" y1="385.4" x2="38.2" y2="475.6" stroke="#a8a8a8" stroke-width="0.8"/>
<line x1="79.0" y1="385.4" x2="79.0" y2="475.6" stroke="#a8a8a8" stroke-width="0.8"/>
<line x1="117.6" y1="385.4" x2="117.6" y2="475.6" stroke="#a8a8a8" stroke-width="0.8"/>
<line x1="156.1" y1="385.4" x2="156.1" y2="475.6" stroke="#a8a8a8" stroke-width="0.8"/>
<line x1="194.5" y1="385.4" x2="194.5" y2="475.6" stroke="#a8a8a8" stroke-width="0.8"/>
<line x1="236.1" y1="385.4" x2="236.1" y2="475.6" stroke="#a8a8a8" stroke-width="0.8"/>
<line x1="272.7" y1="385.4" x2="272.7" y2="475.6" stroke="#a8a8a8" stroke-width="0.8"/>
<line x1="310.8" y1="385.4" x2="310.8" y2="475.6" stroke="#a8a8a8" stroke-width="0.8"/>
<polyline points="28.5,462.3 34.7,459.9 39.3,458.7 46.4,456.4 53.4,454.8 60.4,454.5 63.9,453.4 69.7,452.7 75.6,451.7 80.2,450.1 83.3,448.2 85.6,440.1 88.4,423.7 90.7,402.7 92.1,397.5 93.5,402.7 96.6,426.0 99.4,447.1 104.7,448.2 109.4,449.9 114.1,450.8 115.3,448.2 120.0,447.5 123.4,448.9 125.8,436.6 128.6,428.4 130.9,431.9 132.8,440.1 135.1,446.6 142.1,445.4 150.3,445.2 151.9,442.4 153.8,445.9 158.5,444.7 160.3,431.9 163.1,433.1 165.5,426.0 169.0,415.5 172.5,408.1 174.8,411.6 178.3,416.7 180.7,427.2 183.5,434.2 186.5,435.9 189.3,442.4 192.8,445.2 198.7,445.9 204.5,447.5 209.2,449.4 212.7,447.5 216.2,445.9 217.8,437.7 219.2,433.5 221.3,441.2 223.2,441.2 225.5,433.5 227.9,435.4 230.2,438.2 234.4,437.7 236.1,423.7 238.4,403.9 241.2,406.2 243.5,416.7 245.9,421.8 247.7,424.9 249.6,433.1 251.2,434.2 253.6,445.9 255.9,454.1 260.6,455.9 268.8,456.9 271.1,451.7 273.4,445.9 275.8,440.5 277.6,443.6 279.3,451.7 281.6,459.9 286.3,461.1 294.5,462.3 302.6,465.8 306.1,463.9 309.6,464.6 314.3,466.2 320.2,468.1 329.5,467.6" fill="none" stroke="#111111" stroke-width="1.6" stroke-linejoin="round" stroke-linecap="round"/>
</g>
<rect x="27.5" y="385.4" width="310.0" height="90.20000000000005" fill="none" stroke="#1c1c1c" stroke-width="1.5"/>
<text x="30.3" y="395.7" font-size="10.5" fill="#111" text-anchor="start" font-weight="bold" font-style="normal" >k</text>
<text x="31.9" y="407.4" font-size="10.7" fill="#595959" text-anchor="start" font-weight="bold" font-style="normal" >Onshore</text>
<rect x="303.1" y="389.1" width="32.2" height="11.7" fill="#fff" stroke="#4a4a4a" stroke-width="1"/>
<text x="319.2" y="397.0" font-size="8.6" fill="#5a5a5a" text-anchor="middle" font-weight="normal" font-style="normal" >R=0.16</text>
<text x="25.3" y="411.1" font-size="8.5" fill="#595959" text-anchor="end" font-weight="normal" font-style="normal" >400</text>
<text x="25.3" y="441.7" font-size="8.5" fill="#595959" text-anchor="end" font-weight="normal" font-style="normal" >300</text>
<text x="25.3" y="471.6" font-size="8.5" fill="#595959" text-anchor="end" font-weight="normal" font-style="normal" >200</text>
<text x="0" y="0" font-size="8.7" fill="#595959" text-anchor="middle" transform="translate(7.0,430.6) rotate(-90)">Elevation (m)</text>
<text x="34.7" y="485.2" font-size="8.5" fill="#595959" text-anchor="middle" font-weight="normal" font-style="normal" >0</text>
<text x="75.6" y="485.2" font-size="8.5" fill="#595959" text-anchor="middle" font-weight="normal" font-style="normal" >2</text>
<text x="115.3" y="485.2" font-size="8.5" fill="#595959" text-anchor="middle" font-weight="normal" font-style="normal" >4</text>
<text x="153.7" y="485.2" font-size="8.5" fill="#595959" text-anchor="middle" font-weight="normal" font-style="normal" >6</text>
<text x="194.6" y="487.1" font-size="8.8" fill="#595959" text-anchor="middle" font-weight="normal" font-style="normal" >Distance (km)</text>
<text x="233.2" y="485.2" font-size="8.5" fill="#595959" text-anchor="middle" font-weight="normal" font-style="normal" >10</text>
<text x="270.9" y="485.2" font-size="8.5" fill="#595959" text-anchor="middle" font-weight="normal" font-style="normal" >12</text>
<text x="309.7" y="485.2" font-size="8.5" fill="#595959" text-anchor="middle" font-weight="normal" font-style="normal" >14</text>
<line x1="226.7" y1="259" x2="210.6" y2="259" stroke="#333" stroke-width="1.0"/>
<polygon points="210.6,259 214.8,257.2 214.8,260.8" fill="#333"/>
<text x="229.0" y="262.6" font-size="11.2" fill="#555" text-anchor="start" font-weight="normal" font-style="normal" >Terrace</text>
<line x1="463.8" y1="250.4" x2="473.0" y2="250.4" stroke="#333" stroke-width="1.0"/>
<polygon points="473.0,250.4 468.8,252.2 468.8,248.6" fill="#333"/>
<text x="428.3" y="254.0" font-size="11.0" fill="#555" text-anchor="start" font-weight="normal" font-style="normal" >Terrace</text>
<line x1="533.2" y1="253.2" x2="520.6" y2="253.2" stroke="#333" stroke-width="1.0"/>
<polygon points="520.6,253.2 524.8,251.4 524.8,255.0" fill="#333"/>
<text x="535.5" y="256.8" font-size="11.2" fill="#555" text-anchor="start" font-weight="normal" font-style="normal" >Terrace</text>
<rect x="27.3" y="510.6" width="130.8" height="125.6" fill="#d4e6ee"/>
<rect x="158.1" y="510.6" width="37" height="125.6" fill="#fdf2da"/>
<rect x="195.1" y="510.6" width="103" height="125.6" fill="#d4d4d6"/>
<rect x="298.1" y="510.6" width="39.3" height="125.6" fill="#d4e6ee"/>
<text x="91.6" y="523.4" font-size="8.1" fill="#2e2e2e" text-anchor="middle" font-weight="bold" font-style="normal" >Rough</text>
<text x="91.6" y="531.3" font-size="8.1" fill="#2e2e2e" text-anchor="middle" font-weight="bold" font-style="normal" >morphology</text>
<line x1="57.7" y1="526.5" x2="28.6" y2="526.5" stroke="#222" stroke-width="1.0"/>
<polygon points="28.6,526.5 32.8,524.7 32.8,528.3" fill="#222"/>
<line x1="125.4" y1="526.5" x2="152.4" y2="526.5" stroke="#222" stroke-width="1.0"/>
<polygon points="152.4,526.5 148.2,528.3 148.2,524.7" fill="#222"/>
<text x="177.0" y="523.4" font-size="8.1" fill="#2e2e2e" text-anchor="middle" font-weight="bold" font-style="normal" >Smooth</text>
<text x="177.0" y="531.3" font-size="8.1" fill="#2e2e2e" text-anchor="middle" font-weight="bold" font-style="normal" >morph.</text>
<text x="248.5" y="523.4" font-size="8.1" fill="#2e2e2e" text-anchor="middle" font-weight="bold" font-style="italic" >Smooth</text>
<text x="248.5" y="531.3" font-size="8.1" fill="#2e2e2e" text-anchor="middle" font-weight="bold" font-style="italic" >morphology?</text>
<text x="318.0" y="523.4" font-size="8.1" fill="#2e2e2e" text-anchor="middle" font-weight="bold" font-style="normal" >Rough</text>
<text x="318.0" y="531.3" font-size="8.1" fill="#2e2e2e" text-anchor="middle" font-weight="bold" font-style="normal" >morph.</text>
<line x1="27.3" y1="619.3" x2="337.4" y2="619.3" stroke="#9fa9ad" stroke-width="0.8"/>
<line x1="27.3" y1="602.6" x2="337.4" y2="602.6" stroke="#9fa9ad" stroke-width="0.8"/>
<line x1="27.3" y1="585.9" x2="337.4" y2="585.9" stroke="#9fa9ad" stroke-width="0.8"/>
<line x1="27.3" y1="569.2" x2="337.4" y2="569.2" stroke="#9fa9ad" stroke-width="0.8"/>
<line x1="27.3" y1="552.5" x2="337.4" y2="552.5" stroke="#9fa9ad" stroke-width="0.8"/>
<line x1="61.5" y1="535.6" x2="61.5" y2="636" stroke="#9fa9ad" stroke-width="0.8"/>
<line x1="107.6" y1="535.6" x2="107.6" y2="636" stroke="#9fa9ad" stroke-width="0.8"/>
<line x1="153.7" y1="535.6" x2="153.7" y2="636" stroke="#9fa9ad" stroke-width="0.8"/>
<line x1="199.8" y1="535.6" x2="199.8" y2="636" stroke="#9fa9ad" stroke-width="0.8"/>
<line x1="245.9" y1="535.6" x2="245.9" y2="636" stroke="#9fa9ad" stroke-width="0.8"/>
<line x1="292.0" y1="535.6" x2="292.0" y2="636" stroke="#9fa9ad" stroke-width="0.8"/>
<line x1="197.5" y1="535.6" x2="197.5" y2="636" stroke="#c4c4c6" stroke-width="4"/>
<line x1="27.3" y1="582.4" x2="158" y2="582.4" stroke="#333" stroke-width="1" stroke-dasharray="3.2,2"/>
<line x1="158" y1="615.4" x2="194.5" y2="615.4" stroke="#333" stroke-width="1" stroke-dasharray="3.2,2"/>
<line x1="298.3" y1="579.4" x2="337.4" y2="579.4" stroke="#333" stroke-width="1" stroke-dasharray="3.2,2"/>
<line x1="298.3" y1="535.6" x2="298.3" y2="636" stroke="#333" stroke-width="0.9" stroke-dasharray="2.6,1.6"/>
<line x1="43" y1="583.2" x2="43" y2="590.0" stroke="#e8653f" stroke-width="0.9"/>
<line x1="40.9" y1="583.2" x2="45.1" y2="583.2" stroke="#e8653f" stroke-width="0.9" opacity="0.75"/>
<line x1="40.9" y1="590.0" x2="45.1" y2="590.0" stroke="#e8653f" stroke-width="1"/>
<rect x="41.3" y="584.9" width="3.4" height="3.4" rx="0.7" fill="#2e2220"/>
<rect x="42.4" y="586.0" width="1.2" height="1.2" fill="#e8603c"/>
<line x1="49.9" y1="567.6999999999999" x2="49.9" y2="574.9" stroke="#e8653f" stroke-width="0.9"/>
<line x1="47.8" y1="567.6999999999999" x2="52.0" y2="567.6999999999999" stroke="#e8653f" stroke-width="0.9" opacity="0.75"/>
<line x1="47.8" y1="574.9" x2="52.0" y2="574.9" stroke="#e8653f" stroke-width="1"/>
<rect x="48.199999999999996" y="569.5999999999999" width="3.4" height="3.4" rx="0.7" fill="#2e2220"/>
<rect x="49.3" y="570.6999999999999" width="1.2" height="1.2" fill="#e8603c"/>
<line x1="54.6" y1="555.7" x2="54.6" y2="564.7" stroke="#e8653f" stroke-width="0.9"/>
<line x1="52.5" y1="555.7" x2="56.7" y2="555.7" stroke="#e8653f" stroke-width="0.9" opacity="0.75"/>
<line x1="52.5" y1="564.7" x2="56.7" y2="564.7" stroke="#e8653f" stroke-width="1"/>
<rect x="52.9" y="558.5" width="3.4" height="3.4" rx="0.7" fill="#2e2220"/>
<rect x="54.0" y="559.6" width="1.2" height="1.2" fill="#e8603c"/>
<line x1="59.3" y1="542.6999999999999" x2="59.3" y2="554.1" stroke="#e8653f" stroke-width="0.9"/>
<line x1="57.199999999999996" y1="542.6999999999999" x2="61.4" y2="542.6999999999999" stroke="#e8653f" stroke-width="0.9" opacity="0.75"/>
<line x1="57.199999999999996" y1="554.1" x2="61.4" y2="554.1" stroke="#e8653f" stroke-width="1"/>
<rect x="57.599999999999994" y="546.6999999999999" width="3.4" height="3.4" rx="0.7" fill="#2e2220"/>
<rect x="58.699999999999996" y="547.8" width="1.2" height="1.2" fill="#e8603c"/>
<line x1="63.8" y1="559.2" x2="63.8" y2="568.2" stroke="#e8653f" stroke-width="0.9"/>
<line x1="61.699999999999996" y1="559.2" x2="65.89999999999999" y2="559.2" stroke="#e8653f" stroke-width="0.9" opacity="0.75"/>
<line x1="61.699999999999996" y1="568.2" x2="65.89999999999999" y2="568.2" stroke="#e8653f" stroke-width="1"/>
<rect x="62.099999999999994" y="562.0" width="3.4" height="3.4" rx="0.7" fill="#2e2220"/>
<rect x="63.199999999999996" y="563.1" width="1.2" height="1.2" fill="#e8603c"/>
<line x1="75.5" y1="561.1999999999999" x2="75.5" y2="569.6" stroke="#e8653f" stroke-width="0.9"/>
<line x1="73.4" y1="561.1999999999999" x2="77.6" y2="561.1999999999999" stroke="#e8653f" stroke-width="0.9" opacity="0.75"/>
<line x1="73.4" y1="569.6" x2="77.6" y2="569.6" stroke="#e8653f" stroke-width="1"/>
<rect x="73.8" y="563.6999999999999" width="3.4" height="3.4" rx="0.7" fill="#2e2220"/>
<rect x="74.9" y="564.8" width="1.2" height="1.2" fill="#e8603c"/>
<line x1="82.4" y1="570.5" x2="82.4" y2="578.0999999999999" stroke="#e8653f" stroke-width="0.9"/>
<line x1="80.30000000000001" y1="570.5" x2="84.5" y2="570.5" stroke="#e8653f" stroke-width="0.9" opacity="0.75"/>
<line x1="80.30000000000001" y1="578.0999999999999" x2="84.5" y2="578.0999999999999" stroke="#e8653f" stroke-width="1"/>
<rect x="80.7" y="572.5999999999999" width="3.4" height="3.4" rx="0.7" fill="#2e2220"/>
<rect x="81.80000000000001" y="573.6999999999999" width="1.2" height="1.2" fill="#e8603c"/>
<line x1="86.7" y1="564.0" x2="86.7" y2="572.4000000000001" stroke="#e8653f" stroke-width="0.9"/>
<line x1="84.60000000000001" y1="564.0" x2="88.8" y2="564.0" stroke="#e8653f" stroke-width="0.9" opacity="0.75"/>
<line x1="84.60000000000001" y1="572.4000000000001" x2="88.8" y2="572.4000000000001" stroke="#e8653f" stroke-width="1"/>
<rect x="85.0" y="566.5" width="3.4" height="3.4" rx="0.7" fill="#2e2220"/>
<rect x="86.10000000000001" y="567.6" width="1.2" height="1.2" fill="#e8603c"/>
<line x1="91.4" y1="559.8" x2="91.4" y2="568.8" stroke="#e8653f" stroke-width="0.9"/>
<line x1="89.30000000000001" y1="559.8" x2="93.5" y2="559.8" stroke="#e8653f" stroke-width="0.9" opacity="0.75"/>
<line x1="89.30000000000001" y1="568.8" x2="93.5" y2="568.8" stroke="#e8653f" stroke-width="1"/>
<rect x="89.7" y="562.5999999999999" width="3.4" height="3.4" rx="0.7" fill="#2e2220"/>
<rect x="90.80000000000001" y="563.6999999999999" width="1.2" height="1.2" fill="#e8603c"/>
<line x1="96.1" y1="570.3000000000001" x2="96.1" y2="577.9" stroke="#e8653f" stroke-width="0.9"/>
<line x1="94.0" y1="570.3000000000001" x2="98.19999999999999" y2="570.3000000000001" stroke="#e8653f" stroke-width="0.9" opacity="0.75"/>
<line x1="94.0" y1="577.9" x2="98.19999999999999" y2="577.9" stroke="#e8653f" stroke-width="1"/>
<rect x="94.39999999999999" y="572.4" width="3.4" height="3.4" rx="0.7" fill="#2e2220"/>
<rect x="95.5" y="573.5" width="1.2" height="1.2" fill="#e8603c"/>
<line x1="100.6" y1="569.3000000000001" x2="100.6" y2="576.9" stroke="#e8653f" stroke-width="0.9"/>
<line x1="98.5" y1="569.3000000000001" x2="102.69999999999999" y2="569.3000000000001" stroke="#e8653f" stroke-width="0.9" opacity="0.75"/>
<line x1="98.5" y1="576.9" x2="102.69999999999999" y2="576.9" stroke="#e8653f" stroke-width="1"/>
<rect x="98.89999999999999" y="571.4" width="3.4" height="3.4" rx="0.7" fill="#2e2220"/>
<rect x="100.0" y="572.5" width="1.2" height="1.2" fill="#e8603c"/>
<line x1="104.3" y1="594.4" x2="104.3" y2="600.4" stroke="#e8653f" stroke-width="0.9"/>
<line x1="102.2" y1="594.4" x2="106.39999999999999" y2="594.4" stroke="#e8653f" stroke-width="0.9" opacity="0.75"/>
<line x1="102.2" y1="600.4" x2="106.39999999999999" y2="600.4" stroke="#e8653f" stroke-width="1"/>
<rect x="102.6" y="595.6999999999999" width="3.4" height="3.4" rx="0.7" fill="#2e2220"/>
<rect x="103.7" y="596.8" width="1.2" height="1.2" fill="#e8603c"/>
<line x1="107.6" y1="584.8000000000001" x2="107.6" y2="591.6" stroke="#e8653f" stroke-width="0.9"/>
<line x1="105.5" y1="584.8000000000001" x2="109.69999999999999" y2="584.8000000000001" stroke="#e8653f" stroke-width="0.9" opacity="0.75"/>
<line x1="105.5" y1="591.6" x2="109.69999999999999" y2="591.6" stroke="#e8653f" stroke-width="1"/>
<rect x="105.89999999999999" y="586.5" width="3.4" height="3.4" rx="0.7" fill="#2e2220"/>
<rect x="107.0" y="587.6" width="1.2" height="1.2" fill="#e8603c"/>
<line x1="112.5" y1="560.4000000000001" x2="112.5" y2="570.0" stroke="#e8653f" stroke-width="0.9"/>
<line x1="110.4" y1="560.4000000000001" x2="114.6" y2="560.4000000000001" stroke="#e8653f" stroke-width="0.9" opacity="0.75"/>
<line x1="110.4" y1="570.0" x2="114.6" y2="570.0" stroke="#e8653f" stroke-width="1"/>
<rect x="110.8" y="563.5" width="3.4" height="3.4" rx="0.7" fill="#2e2220"/>
<rect x="111.9" y="564.6" width="1.2" height="1.2" fill="#e8603c"/>
<line x1="117" y1="575.9" x2="117" y2="583.1" stroke="#e8653f" stroke-width="0.9"/>
<line x1="114.9" y1="575.9" x2="119.1" y2="575.9" stroke="#e8653f" stroke-width="0.9" opacity="0.75"/>
<line x1="114.9" y1="583.1" x2="119.1" y2="583.1" stroke="#e8653f" stroke-width="1"/>
<rect x="115.3" y="577.8" width="3.4" height="3.4" rx="0.7" fill="#2e2220"/>
<rect x="116.4" y="578.9" width="1.2" height="1.2" fill="#e8603c"/>
<line x1="121.5" y1="595.9000000000001" x2="121.5" y2="601.5" stroke="#e8653f" stroke-width="0.9"/>
<line x1="119.4" y1="595.9000000000001" x2="123.6" y2="595.9000000000001" stroke="#e8653f" stroke-width="0.9" opacity="0.75"/>
<line x1="119.4" y1="601.5" x2="123.6" y2="601.5" stroke="#e8653f" stroke-width="1"/>
<rect x="119.8" y="597.0" width="3.4" height="3.4" rx="0.7" fill="#2e2220"/>
<rect x="120.9" y="598.1" width="1.2" height="1.2" fill="#e8603c"/>
<line x1="128.5" y1="594.2" x2="128.5" y2="599.8" stroke="#e8653f" stroke-width="0.9"/>
<line x1="126.4" y1="594.2" x2="130.6" y2="594.2" stroke="#e8653f" stroke-width="0.9" opacity="0.75"/>
<line x1="126.4" y1="599.8" x2="130.6" y2="599.8" stroke="#e8653f" stroke-width="1"/>
<rect x="126.8" y="595.3" width="3.4" height="3.4" rx="0.7" fill="#2e2220"/>
<rect x="127.9" y="596.4" width="1.2" height="1.2" fill="#e8603c"/>
<line x1="135.5" y1="593.1999999999999" x2="135.5" y2="599.6" stroke="#e8653f" stroke-width="0.9"/>
<line x1="133.4" y1="593.1999999999999" x2="137.6" y2="593.1999999999999" stroke="#e8653f" stroke-width="0.9" opacity="0.75"/>
<line x1="133.4" y1="599.6" x2="137.6" y2="599.6" stroke="#e8653f" stroke-width="1"/>
<rect x="133.8" y="594.6999999999999" width="3.4" height="3.4" rx="0.7" fill="#2e2220"/>
<rect x="134.9" y="595.8" width="1.2" height="1.2" fill="#e8603c"/>
<line x1="142.1" y1="575.2" x2="142.1" y2="582.8" stroke="#e8653f" stroke-width="0.9"/>
<line x1="140.0" y1="575.2" x2="144.2" y2="575.2" stroke="#e8653f" stroke-width="0.9" opacity="0.75"/>
<line x1="140.0" y1="582.8" x2="144.2" y2="582.8" stroke="#e8653f" stroke-width="1"/>
<rect x="140.4" y="577.3" width="3.4" height="3.4" rx="0.7" fill="#2e2220"/>
<rect x="141.5" y="578.4" width="1.2" height="1.2" fill="#e8603c"/>
<line x1="150.1" y1="589.6999999999999" x2="150.1" y2="594.9" stroke="#e8653f" stroke-width="0.9"/>
<line x1="148.0" y1="589.6999999999999" x2="152.2" y2="589.6999999999999" stroke="#e8653f" stroke-width="0.9" opacity="0.75"/>
<line x1="148.0" y1="594.9" x2="152.2" y2="594.9" stroke="#e8653f" stroke-width="1"/>
<rect x="148.4" y="590.5999999999999" width="3.4" height="3.4" rx="0.7" fill="#2e2220"/>
<rect x="149.5" y="591.6999999999999" width="1.2" height="1.2" fill="#e8603c"/>
<line x1="156.5" y1="592.4000000000001" x2="156.5" y2="598.0" stroke="#e8653f" stroke-width="0.9"/>
<line x1="154.4" y1="592.4000000000001" x2="158.6" y2="592.4000000000001" stroke="#e8653f" stroke-width="0.9" opacity="0.75"/>
<line x1="154.4" y1="598.0" x2="158.6" y2="598.0" stroke="#e8653f" stroke-width="1"/>
<rect x="154.8" y="593.5" width="3.4" height="3.4" rx="0.7" fill="#2e2220"/>
<rect x="155.9" y="594.6" width="1.2" height="1.2" fill="#e8603c"/>
<line x1="160" y1="613.9" x2="160" y2="616.9" stroke="#e8653f" stroke-width="0.9"/>
<line x1="157.9" y1="613.9" x2="162.1" y2="613.9" stroke="#e8653f" stroke-width="0.9" opacity="0.75"/>
<line x1="157.9" y1="616.9" x2="162.1" y2="616.9" stroke="#e8653f" stroke-width="1"/>
<rect x="158.3" y="613.6999999999999" width="3.4" height="3.4" rx="0.7" fill="#2e2220"/>
<rect x="159.4" y="614.8" width="1.2" height="1.2" fill="#e8603c"/>
<line x1="166.1" y1="614.7" x2="166.1" y2="617.7" stroke="#e8653f" stroke-width="0.9"/>
<line x1="164.0" y1="614.7" x2="168.2" y2="614.7" stroke="#e8653f" stroke-width="0.9" opacity="0.75"/>
<line x1="164.0" y1="617.7" x2="168.2" y2="617.7" stroke="#e8653f" stroke-width="1"/>
<rect x="164.4" y="614.5" width="3.4" height="3.4" rx="0.7" fill="#2e2220"/>
<rect x="165.5" y="615.6" width="1.2" height="1.2" fill="#e8603c"/>
<line x1="173.8" y1="611.9" x2="173.8" y2="615.1" stroke="#e8653f" stroke-width="0.9"/>
<line x1="171.70000000000002" y1="611.9" x2="175.9" y2="611.9" stroke="#e8653f" stroke-width="0.9" opacity="0.75"/>
<line x1="171.70000000000002" y1="615.1" x2="175.9" y2="615.1" stroke="#e8653f" stroke-width="1"/>
<rect x="172.10000000000002" y="611.8" width="3.4" height="3.4" rx="0.7" fill="#2e2220"/>
<rect x="173.20000000000002" y="612.9" width="1.2" height="1.2" fill="#e8603c"/>
<line x1="177" y1="615.8" x2="177" y2="618.8" stroke="#e8653f" stroke-width="0.9"/>
<line x1="174.9" y1="615.8" x2="179.1" y2="615.8" stroke="#e8653f" stroke-width="0.9" opacity="0.75"/>
<line x1="174.9" y1="618.8" x2="179.1" y2="618.8" stroke="#e8653f" stroke-width="1"/>
<rect x="175.3" y="615.5999999999999" width="3.4" height="3.4" rx="0.7" fill="#2e2220"/>
<rect x="176.4" y="616.6999999999999" width="1.2" height="1.2" fill="#e8603c"/>
<line x1="184.5" y1="606.6" x2="184.5" y2="609.8000000000001" stroke="#e8653f" stroke-width="0.9"/>
<line x1="182.4" y1="606.6" x2="186.6" y2="606.6" stroke="#e8653f" stroke-width="0.9" opacity="0.75"/>
<line x1="182.4" y1="609.8000000000001" x2="186.6" y2="609.8000000000001" stroke="#e8653f" stroke-width="1"/>
<rect x="182.8" y="606.5" width="3.4" height="3.4" rx="0.7" fill="#2e2220"/>
<rect x="183.9" y="607.6" width="1.2" height="1.2" fill="#e8603c"/>
<line x1="316" y1="541.9" x2="316" y2="555.1" stroke="#e8653f" stroke-width="0.9"/>
<line x1="313.9" y1="541.9" x2="318.1" y2="541.9" stroke="#e8653f" stroke-width="0.9" opacity="0.75"/>
<line x1="313.9" y1="555.1" x2="318.1" y2="555.1" stroke="#e8653f" stroke-width="1"/>
<rect x="314.3" y="546.8" width="3.4" height="3.4" rx="0.7" fill="#2e2220"/>
<rect x="315.4" y="547.9" width="1.2" height="1.2" fill="#e8603c"/>
<line x1="321.1" y1="570.7" x2="321.1" y2="578.7" stroke="#e8653f" stroke-width="0.9"/>
<line x1="319.0" y1="570.7" x2="323.20000000000005" y2="570.7" stroke="#e8653f" stroke-width="0.9" opacity="0.75"/>
<line x1="319.0" y1="578.7" x2="323.20000000000005" y2="578.7" stroke="#e8653f" stroke-width="1"/>
<rect x="319.40000000000003" y="573.0" width="3.4" height="3.4" rx="0.7" fill="#2e2220"/>
<rect x="320.5" y="574.1" width="1.2" height="1.2" fill="#e8603c"/>
<line x1="319" y1="574.5" x2="319" y2="581.7" stroke="#e8653f" stroke-width="0.9"/>
<line x1="316.9" y1="574.5" x2="321.1" y2="574.5" stroke="#e8653f" stroke-width="0.9" opacity="0.75"/>
<line x1="316.9" y1="581.7" x2="321.1" y2="581.7" stroke="#e8653f" stroke-width="1"/>
<rect x="317.3" y="576.4" width="3.4" height="3.4" rx="0.7" fill="#2e2220"/>
<rect x="318.4" y="577.5" width="1.2" height="1.2" fill="#e8603c"/>
<line x1="317.7" y1="576.9" x2="317.7" y2="583.6999999999999" stroke="#e8653f" stroke-width="0.9"/>
<line x1="315.59999999999997" y1="576.9" x2="319.8" y2="576.9" stroke="#e8653f" stroke-width="0.9" opacity="0.75"/>
<line x1="315.59999999999997" y1="583.6999999999999" x2="319.8" y2="583.6999999999999" stroke="#e8653f" stroke-width="1"/>
<rect x="316.0" y="578.5999999999999" width="3.4" height="3.4" rx="0.7" fill="#2e2220"/>
<rect x="317.09999999999997" y="579.6999999999999" width="1.2" height="1.2" fill="#e8603c"/>
<line x1="311.8" y1="594.5" x2="311.8" y2="600.5" stroke="#e8653f" stroke-width="0.9"/>
<line x1="309.7" y1="594.5" x2="313.90000000000003" y2="594.5" stroke="#e8653f" stroke-width="0.9" opacity="0.75"/>
<line x1="309.7" y1="600.5" x2="313.90000000000003" y2="600.5" stroke="#e8653f" stroke-width="1"/>
<rect x="310.1" y="595.8" width="3.4" height="3.4" rx="0.7" fill="#2e2220"/>
<rect x="311.2" y="596.9" width="1.2" height="1.2" fill="#e8603c"/>
<line x1="126.1" y1="597.5" x2="126.1" y2="603.0999999999999" stroke="#3fb2e6" stroke-width="0.9"/>
<line x1="123.89999999999999" y1="597.5" x2="128.29999999999998" y2="597.5" stroke="#3fb2e6" stroke-width="1"/>
<line x1="123.89999999999999" y1="603.0999999999999" x2="128.29999999999998" y2="603.0999999999999" stroke="#3fb2e6" stroke-width="1"/>
<circle cx="126.1" cy="600.3" r="1.75" fill="#1a95d4" stroke="#1b2c3c" stroke-width="0.8"/>
<line x1="133.2" y1="591.3000000000001" x2="133.2" y2="596.9" stroke="#3fb2e6" stroke-width="0.9"/>
<line x1="131.0" y1="591.3000000000001" x2="135.39999999999998" y2="591.3000000000001" stroke="#3fb2e6" stroke-width="1"/>
<line x1="131.0" y1="596.9" x2="135.39999999999998" y2="596.9" stroke="#3fb2e6" stroke-width="1"/>
<circle cx="133.2" cy="594.1" r="1.75" fill="#1a95d4" stroke="#1b2c3c" stroke-width="0.8"/>
<line x1="137.9" y1="589.9" x2="137.9" y2="595.9" stroke="#3fb2e6" stroke-width="0.9"/>
<line x1="135.70000000000002" y1="589.9" x2="140.1" y2="589.9" stroke="#3fb2e6" stroke-width="1"/>
<line x1="135.70000000000002" y1="595.9" x2="140.1" y2="595.9" stroke="#3fb2e6" stroke-width="1"/>
<circle cx="137.9" cy="592.9" r="1.75" fill="#1a95d4" stroke="#1b2c3c" stroke-width="0.8"/>
<line x1="146.7" y1="592.5" x2="146.7" y2="598.5" stroke="#3fb2e6" stroke-width="0.9"/>
<line x1="144.5" y1="592.5" x2="148.89999999999998" y2="592.5" stroke="#3fb2e6" stroke-width="1"/>
<line x1="144.5" y1="598.5" x2="148.89999999999998" y2="598.5" stroke="#3fb2e6" stroke-width="1"/>
<circle cx="146.7" cy="595.5" r="1.75" fill="#1a95d4" stroke="#1b2c3c" stroke-width="0.8"/>
<line x1="153.9" y1="593.4" x2="153.9" y2="599.4" stroke="#3fb2e6" stroke-width="0.9"/>
<line x1="151.70000000000002" y1="593.4" x2="156.1" y2="593.4" stroke="#3fb2e6" stroke-width="1"/>
<line x1="151.70000000000002" y1="599.4" x2="156.1" y2="599.4" stroke="#3fb2e6" stroke-width="1"/>
<circle cx="153.9" cy="596.4" r="1.75" fill="#1a95d4" stroke="#1b2c3c" stroke-width="0.8"/>
<circle cx="162.8" cy="623.1" r="1.75" fill="#1a95d4" stroke="#1b2c3c" stroke-width="0.8"/>
<line x1="170.1" y1="614.6999999999999" x2="170.1" y2="617.1" stroke="#3fb2e6" stroke-width="0.9"/>
<line x1="167.9" y1="614.6999999999999" x2="172.29999999999998" y2="614.6999999999999" stroke="#3fb2e6" stroke-width="1"/>
<line x1="167.9" y1="617.1" x2="172.29999999999998" y2="617.1" stroke="#3fb2e6" stroke-width="1"/>
<circle cx="170.1" cy="615.9" r="1.75" fill="#1a95d4" stroke="#1b2c3c" stroke-width="0.8"/>
<line x1="179.2" y1="609.4" x2="179.2" y2="611.8000000000001" stroke="#3fb2e6" stroke-width="0.9"/>
<line x1="177.0" y1="609.4" x2="181.39999999999998" y2="609.4" stroke="#3fb2e6" stroke-width="1"/>
<line x1="177.0" y1="611.8000000000001" x2="181.39999999999998" y2="611.8000000000001" stroke="#3fb2e6" stroke-width="1"/>
<circle cx="179.2" cy="610.6" r="1.75" fill="#1a95d4" stroke="#1b2c3c" stroke-width="0.8"/>
<line x1="308.4" y1="576.1" x2="308.4" y2="583.3000000000001" stroke="#3fb2e6" stroke-width="0.9"/>
<line x1="306.2" y1="576.1" x2="310.59999999999997" y2="576.1" stroke="#3fb2e6" stroke-width="1"/>
<line x1="306.2" y1="583.3000000000001" x2="310.59999999999997" y2="583.3000000000001" stroke="#3fb2e6" stroke-width="1"/>
<circle cx="308.4" cy="579.7" r="1.75" fill="#1a95d4" stroke="#1b2c3c" stroke-width="0.8"/>
<line x1="315.5" y1="579.5" x2="315.5" y2="586.7" stroke="#3fb2e6" stroke-width="0.9"/>
<line x1="313.3" y1="579.5" x2="317.7" y2="579.5" stroke="#3fb2e6" stroke-width="1"/>
<line x1="313.3" y1="586.7" x2="317.7" y2="586.7" stroke="#3fb2e6" stroke-width="1"/>
<circle cx="315.5" cy="583.1" r="1.75" fill="#1a95d4" stroke="#1b2c3c" stroke-width="0.8"/>
<line x1="306.2" y1="587.4" x2="306.2" y2="593.4" stroke="#3fb2e6" stroke-width="0.9"/>
<line x1="304.0" y1="587.4" x2="308.4" y2="587.4" stroke="#3fb2e6" stroke-width="1"/>
<line x1="304.0" y1="593.4" x2="308.4" y2="593.4" stroke="#3fb2e6" stroke-width="1"/>
<circle cx="306.2" cy="590.4" r="1.75" fill="#1a95d4" stroke="#1b2c3c" stroke-width="0.8"/>
<text x="125.9" y="609.3" font-size="8.6" fill="#4d4d4d" text-anchor="middle" font-weight="normal" font-style="normal" >a</text>
<text x="132.2" y="591.5" font-size="8.6" fill="#4d4d4d" text-anchor="middle" font-weight="normal" font-style="normal" >b</text>
<text x="142.1" y="590.3" font-size="8.6" fill="#4d4d4d" text-anchor="middle" font-weight="normal" font-style="normal" >c</text>
<text x="146.6" y="605.3" font-size="8.6" fill="#4d4d4d" text-anchor="middle" font-weight="normal" font-style="normal" >d</text>
<text x="155.4" y="591.2" font-size="8.6" fill="#4d4d4d" text-anchor="middle" font-weight="normal" font-style="normal" >e</text>
<text x="162.4" y="632.0" font-size="8.6" fill="#4d4d4d" text-anchor="middle" font-weight="normal" font-style="normal" >f</text>
<text x="169.6" y="610.9" font-size="8.6" fill="#4d4d4d" text-anchor="middle" font-weight="normal" font-style="normal" >g</text>
<text x="179.4" y="606.8" font-size="8.6" fill="#4d4d4d" text-anchor="middle" font-weight="normal" font-style="normal" >h</text>
<text x="303.9" y="596.8" font-size="8.6" fill="#4d4d4d" text-anchor="middle" font-weight="normal" font-style="normal" >i</text>
<text x="305.8" y="578.2" font-size="8.6" fill="#4d4d4d" text-anchor="middle" font-weight="normal" font-style="normal" >j</text>
<text x="318.4" y="593.8" font-size="8.6" fill="#4d4d4d" text-anchor="middle" font-weight="normal" font-style="normal" >k</text>
<text x="247.5" y="612.0" font-size="8.6" fill="#222" text-anchor="middle" font-weight="normal" font-style="normal" >No high-</text>
<text x="247.5" y="620.3" font-size="8.6" fill="#222" text-anchor="middle" font-weight="normal" font-style="normal" >resolution</text>
<text x="247.5" y="628.6" font-size="8.6" fill="#222" text-anchor="middle" font-weight="normal" font-style="normal" >data</text>
<line x1="226.5" y1="614.5" x2="197.6" y2="614.5" stroke="#222" stroke-width="1.0"/>
<polygon points="197.6,614.5 201.8,612.7 201.8,616.3" fill="#222"/>
<line x1="267.1" y1="613.5" x2="295.0" y2="613.5" stroke="#222" stroke-width="1.0"/>
<polygon points="295.0,613.5 290.8,615.3 290.8,611.7" fill="#222"/>
<text x="0" y="0" font-size="8.8" fill="#444" text-anchor="middle" transform="translate(293.6,554.4) rotate(-90)">Offshore</text>
<text x="0" y="0" font-size="8.8" fill="#444" text-anchor="middle" transform="translate(307.1,554.4) rotate(-90)">Onshore</text>
<rect x="27.3" y="535.6" width="310.1" height="100.6" fill="none" stroke="#1c1c1c" stroke-width="1.5"/>
<text x="32.0" y="546.0" font-size="10.5" fill="#111" text-anchor="start" font-weight="bold" font-style="normal" >l</text>
<line x1="23.8" y1="535.8" x2="27.3" y2="535.8" stroke="#1c1c1c" stroke-width="1.2"/>
<text x="23.0" y="538.8" font-size="8.6" fill="#595959" text-anchor="end" font-weight="normal" font-style="normal" >0.3</text>
<line x1="23.8" y1="569.2" x2="27.3" y2="569.2" stroke="#1c1c1c" stroke-width="1.2"/>
<text x="23.0" y="571.5" font-size="8.6" fill="#595959" text-anchor="end" font-weight="normal" font-style="normal" >0.2</text>
<line x1="23.8" y1="602.6" x2="27.3" y2="602.6" stroke="#1c1c1c" stroke-width="1.2"/>
<text x="23.0" y="605.6" font-size="8.6" fill="#595959" text-anchor="end" font-weight="normal" font-style="normal" >0.1</text>
<line x1="23.8" y1="636.0" x2="27.3" y2="636.0" stroke="#1c1c1c" stroke-width="1.2"/>
<text x="23.0" y="640.0" font-size="8.6" fill="#595959" text-anchor="end" font-weight="normal" font-style="normal" >0</text>
<text x="0" y="0" font-size="8.7" fill="#595959" text-anchor="middle" transform="translate(8.2,586.3) rotate(-90)">Relative Roughness</text>
<text x="60.0" y="646.1" font-size="8.6" fill="#595959" text-anchor="middle" font-weight="normal" font-style="normal" >62.8</text>
<text x="107.3" y="646.1" font-size="8.6" fill="#595959" text-anchor="middle" font-weight="normal" font-style="normal" >63.0</text>
<text x="152.8" y="646.1" font-size="8.6" fill="#595959" text-anchor="middle" font-weight="normal" font-style="normal" >63.2</text>
<text x="243.9" y="646.1" font-size="8.6" fill="#595959" text-anchor="middle" font-weight="normal" font-style="normal" >63.6</text>
<text x="291.4" y="646.1" font-size="8.6" fill="#595959" text-anchor="middle" font-weight="normal" font-style="normal" >63.8</text>
<text x="193.4" y="646.3" font-size="8.8" fill="#595959" text-anchor="middle" font-weight="normal" font-style="normal" >Latitude [°]</text>
<text x="343.8" y="425.8" font-size="11" fill="#111" text-anchor="start" font-weight="bold" font-style="normal" >m</text>
<rect x="344.3" y="428.4" width="310.4" height="71.3" fill="#fff" stroke="#1c1c1c" stroke-width="1.5"/>
<line x1="344.3" y1="464.9" x2="654.7" y2="464.9" stroke="#1c1c1c" stroke-width="1.5"/>
<line x1="536.5" y1="428.4" x2="536.5" y2="464.9" stroke="#1c1c1c" stroke-width="1.5"/>
<line x1="536.5" y1="464.9" x2="536.5" y2="499.7" stroke="#1c1c1c" stroke-width="1.5"/>
<circle cx="351.2" cy="439.3" r="2.9" fill="#6b6b6b"/>
<text x="356.6" y="442.2" font-size="8.45" fill="#1e1e1e" text-anchor="start" font-weight="normal" font-style="normal" >Cone-shaped</text>
<circle cx="416.2" cy="439.3" r="2.9" fill="#63c3ea"/>
<text x="421.5" y="442.2" font-size="8.45" fill="#1e1e1e" text-anchor="start" font-weight="normal" font-style="normal" >Flat-topped</text>
<circle cx="474.5" cy="439.3" r="2.9" fill="#ef8fb5"/>
<text x="479.6" y="442.2" font-size="8.45" fill="#1e1e1e" text-anchor="start" font-weight="normal" font-style="normal" >Dome-shaped</text>
<text x="349.8" y="453.2" font-size="8.1" fill="#1e1e1e" text-anchor="start" font-weight="normal" font-style="italic" >Le Saout et al. (2023), measured between 57.8°N</text>
<text x="349.8" y="461.8" font-size="8.1" fill="#1e1e1e" text-anchor="start" font-weight="normal" font-style="italic" >and 63.2°N.</text>
<circle cx="543.6" cy="440.2" r="2.8" fill="#fff" stroke="#222" stroke-width="0.9"/>
<text x="553.3" y="442.5" font-size="8.45" fill="#1e1e1e" text-anchor="start" font-weight="normal" font-style="normal" >Black Point (BP)</text>
<text x="539.9" y="453.2" font-size="8.1" fill="#1e1e1e" text-anchor="start" font-weight="normal" font-style="italic" >Surtseyan volcano, California</text>
<text x="539.9" y="461.8" font-size="8.1" fill="#1e1e1e" text-anchor="start" font-weight="normal" font-style="italic" >(White, 1996).</text>
<circle cx="350.9" cy="475.1" r="3.0" fill="#f4c21c" stroke="#333" stroke-width="0.8"/>
<text x="356.6" y="478.0" font-size="8.45" fill="#1e1e1e" text-anchor="start" font-weight="normal" font-style="normal" >Syrtlingur (Sy), Jólnir (Jó), Surtla (Su)</text>
<text x="348.4" y="488.1" font-size="8.1" fill="#1e1e1e" text-anchor="start" font-weight="normal" font-style="italic" >Submarine volcanoes adjacent to Surtsey, inferred</text>
<text x="348.4" y="496.9" font-size="8.1" fill="#1e1e1e" text-anchor="start" font-weight="normal" font-style="italic" >from Jacobbson et al. (2009).</text>
<circle cx="543.6" cy="474.9" r="3.0" fill="#5ca84a" stroke="#333" stroke-width="0.8"/>
<text x="551.9" y="477.8" font-size="8.45" fill="#1e1e1e" text-anchor="start" font-weight="normal" font-style="normal" >Smooth-shaped</text>
<text x="540.5" y="487.4" font-size="8.1" fill="#1e1e1e" text-anchor="start" font-weight="normal" font-style="italic" >This study, north of ~63.2°N.</text>
<clipPath id="cm"><rect x="344.5" y="499.7" width="310" height="136.3"/></clipPath>
<rect x="344.5" y="499.7" width="310" height="136.3" fill="#fff"/>
<g clip-path="url(#cm)">
<polygon points="345.5,636.0 345.5,636.0 350.5,632.4 355.5,628.8 360.5,625.2 365.5,621.6 370.5,618.0 375.5,614.4 380.5,610.8 385.5,607.2 390.5,603.6 395.5,600.0 400.5,596.4 405.5,592.8 410.5,589.2 415.5,585.6 420.5,582.0 425.5,578.4 430.5,574.8 435.5,571.2 440.5,567.6 445.5,564.0 450.5,560.4 455.5,556.8 460.5,553.2 465.5,549.6 470.5,546.0 475.5,542.4 480.5,538.8 485.5,535.2 490.5,531.6 495.5,528.0 500.5,524.4 505.5,520.8 510.5,517.2 515.5,513.6 520.5,510.0 525.5,506.4 530.5,502.8 535.5,499.2 540.5,495.6 545.5,492.0 550.5,488.4 555.5,484.8 560.5,481.2 565.5,477.6 570.5,474.0 575.5,470.4 580.5,466.8 585.5,463.2 590.5,459.6 595.5,456.0 600.5,452.4 605.5,448.8 610.5,445.2 615.5,441.6 620.5,438.0 625.5,434.4 630.5,430.8 635.5,427.2 640.5,423.6 645.5,420.0 650.5,416.4 655.5,412.8 660.0,489.7 660.0,627.3" fill="#f9dcdd"/>
<polygon points="345.5,636.0 349.0,628.0 353.5,617.0 357.8,606.0 362.0,594.0 366.3,582.0 370.4,569.5 374.1,559.0 377.7,549.5 382.0,539.5 386.9,530.0 391.9,520.0 395.5,512.5 399.0,506.0 402.9,500.0 406.0,494.0 406.0,480.0 700.0,480.0 700.0,475.8" fill="#fcd6b9"/>
<polygon points="345.5,636.0 345.5,636.0 350.5,632.4 355.5,628.8 360.5,625.2 365.5,621.6 370.5,618.0 375.5,614.4 380.5,610.8 385.5,607.2 390.5,603.6 395.5,600.0 400.5,596.4 405.5,592.8 410.5,589.2 415.5,585.6 420.5,582.0 425.5,578.4 430.5,574.8 435.5,571.2 440.5,567.6 445.5,564.0 450.5,560.4 455.5,556.8 460.5,553.2 465.5,549.6 470.5,546.0 475.5,542.4 480.5,538.8 485.5,535.2 490.5,531.6 495.5,528.0 500.5,524.4 505.5,520.8 510.5,517.2 515.5,513.6 520.5,510.0 525.5,506.4 530.5,502.8 535.5,499.2 540.5,495.6 545.5,492.0 550.5,488.4 555.5,484.8 560.5,481.2 565.5,477.6 570.5,474.0 575.5,470.4 580.5,466.8 585.5,463.2 590.5,459.6 595.5,456.0 600.5,452.4 605.5,448.8 610.5,445.2 615.5,441.6 620.5,438.0 625.5,434.4 630.5,430.8 635.5,427.2 640.5,423.6 645.5,420.0 650.5,416.4 655.5,412.8 660.5,409.2 665.5,405.6 670.5,402.0 675.5,398.4 680.5,394.8 685.5,391.2 690.5,387.6 695.5,384.0 700.0,380.8 700.0,475.8" fill="#f6c1a7"/>
<line x1="344.5" y1="616.6" x2="654.5" y2="616.6" stroke="rgba(120,120,120,0.22)" stroke-width="1"/>
<line x1="344.5" y1="597.3" x2="654.5" y2="597.3" stroke="rgba(120,120,120,0.22)" stroke-width="1"/>
<line x1="344.5" y1="578.0" x2="654.5" y2="578.0" stroke="rgba(120,120,120,0.22)" stroke-width="1"/>
<line x1="344.5" y1="558.6" x2="654.5" y2="558.6" stroke="rgba(120,120,120,0.22)" stroke-width="1"/>
<line x1="344.5" y1="539.2" x2="654.5" y2="539.2" stroke="rgba(120,120,120,0.22)" stroke-width="1"/>
<line x1="344.5" y1="519.9" x2="654.5" y2="519.9" stroke="rgba(120,120,120,0.22)" stroke-width="1"/>
<line x1="389.6" y1="499.7" x2="389.6" y2="636" stroke="rgba(120,120,120,0.22)" stroke-width="1"/>
<line x1="433.7" y1="499.7" x2="433.7" y2="636" stroke="rgba(120,120,120,0.22)" stroke-width="1"/>
<line x1="477.8" y1="499.7" x2="477.8" y2="636" stroke="rgba(120,120,120,0.22)" stroke-width="1"/>
<line x1="521.9" y1="499.7" x2="521.9" y2="636" stroke="rgba(120,120,120,0.22)" stroke-width="1"/>
<line x1="566.0" y1="499.7" x2="566.0" y2="636" stroke="rgba(120,120,120,0.22)" stroke-width="1"/>
<line x1="610.1" y1="499.7" x2="610.1" y2="636" stroke="rgba(120,120,120,0.22)" stroke-width="1"/>
<circle cx="370.1" cy="618.9" r="2.7" fill="rgba(238,104,160,0.62)"/>
<circle cx="409.6" cy="621.0" r="2.7" fill="rgba(238,104,160,0.62)"/>
<circle cx="404.0" cy="572.8" r="2.7" fill="rgba(74,178,222,0.58)"/>
<circle cx="395.9" cy="629.5" r="2.7" fill="rgba(238,104,160,0.62)"/>
<circle cx="418.5" cy="533.8" r="2.7" fill="rgba(238,104,160,0.62)"/>
<circle cx="381.8" cy="590.4" r="2.7" fill="rgba(74,178,222,0.58)"/>
<circle cx="431.3" cy="561.4" r="2.7" fill="rgba(238,104,160,0.62)"/>
<circle cx="387.8" cy="564.3" r="2.7" fill="rgba(74,178,222,0.58)"/>
<circle cx="404.0" cy="596.0" r="2.7" fill="rgba(74,178,222,0.58)"/>
<circle cx="391.1" cy="605.2" r="2.7" fill="rgba(238,104,160,0.62)"/>
<circle cx="391.0" cy="585.9" r="2.7" fill="rgba(74,178,222,0.58)"/>
<circle cx="387.4" cy="565.6" r="2.7" fill="rgba(74,178,222,0.58)"/>
<circle cx="405.2" cy="550.7" r="2.7" fill="rgba(74,178,222,0.58)"/>
<circle cx="418.6" cy="558.9" r="2.7" fill="rgba(74,178,222,0.58)"/>
<circle cx="380.6" cy="593.1" r="2.7" fill="rgba(74,178,222,0.58)"/>
<circle cx="388.2" cy="577.2" r="2.7" fill="rgba(74,178,222,0.58)"/>
<circle cx="379.1" cy="591.6" r="2.7" fill="rgba(74,178,222,0.58)"/>
<circle cx="413.5" cy="572.9" r="2.7" fill="rgba(74,178,222,0.58)"/>
<circle cx="372.3" cy="587.6" r="2.7" fill="rgba(74,178,222,0.58)"/>
<circle cx="394.5" cy="581.7" r="2.7" fill="rgba(238,104,160,0.62)"/>
<circle cx="390.5" cy="553.4" r="2.7" fill="rgba(74,178,222,0.58)"/>
<circle cx="387.1" cy="593.7" r="2.7" fill="rgba(74,178,222,0.58)"/>
<circle cx="378.5" cy="605.5" r="2.7" fill="rgba(74,178,222,0.58)"/>
<circle cx="388.2" cy="588.0" r="2.7" fill="rgba(74,178,222,0.58)"/>
<circle cx="402.4" cy="611.2" r="2.7" fill="rgba(238,104,160,0.62)"/>
<circle cx="404.5" cy="569.7" r="2.7" fill="rgba(74,178,222,0.58)"/>
<circle cx="387.9" cy="626.9" r="2.7" fill="rgba(238,104,160,0.62)"/>
<circle cx="417.8" cy="616.6" r="2.7" fill="rgba(238,104,160,0.62)"/>
<circle cx="404.0" cy="565.6" r="2.7" fill="rgba(74,178,222,0.58)"/>
<circle cx="383.8" cy="595.4" r="2.7" fill="rgba(74,178,222,0.58)"/>
<circle cx="421.6" cy="558.8" r="2.7" fill="rgba(74,178,222,0.58)"/>
<circle cx="427.6" cy="589.5" r="2.7" fill="rgba(238,104,160,0.62)"/>
<circle cx="375.7" cy="630.1" r="2.7" fill="rgba(238,104,160,0.62)"/>
<circle cx="434.7" cy="552.8" r="2.7" fill="rgba(74,178,222,0.58)"/>
<circle cx="396.3" cy="602.3" r="2.7" fill="rgba(238,104,160,0.62)"/>
<circle cx="480.7" cy="538.3" r="2.7" fill="rgba(74,178,222,0.58)"/>
<circle cx="379.5" cy="589.9" r="2.7" fill="rgba(74,178,222,0.58)"/>
<circle cx="389.1" cy="612.9" r="2.7" fill="rgba(238,104,160,0.62)"/>
<circle cx="389.0" cy="568.5" r="2.7" fill="rgba(74,178,222,0.58)"/>
<circle cx="361.6" cy="629.1" r="2.7" fill="rgba(238,104,160,0.62)"/>
<circle cx="435.0" cy="552.2" r="2.7" fill="rgba(74,178,222,0.58)"/>
<circle cx="379.6" cy="586.3" r="2.7" fill="rgba(74,178,222,0.58)"/>
<circle cx="359.7" cy="626.3" r="2.7" fill="rgba(74,178,222,0.58)"/>
<circle cx="393.6" cy="570.6" r="2.7" fill="rgba(74,178,222,0.58)"/>
<circle cx="395.0" cy="575.0" r="2.7" fill="rgba(74,178,222,0.58)"/>
<circle cx="420.0" cy="588.2" r="2.7" fill="rgba(238,104,160,0.62)"/>
<circle cx="432.0" cy="596.0" r="2.7" fill="rgba(74,178,222,0.58)"/>
<circle cx="421.4" cy="565.8" r="2.7" fill="rgba(74,178,222,0.58)"/>
<circle cx="381.1" cy="612.0" r="2.7" fill="rgba(238,104,160,0.62)"/>
<circle cx="372.0" cy="611.6" r="2.7" fill="rgba(74,178,222,0.58)"/>
<circle cx="406.8" cy="528.3" r="2.7" fill="rgba(74,178,222,0.58)"/>
<circle cx="414.8" cy="575.0" r="2.7" fill="rgba(74,178,222,0.58)"/>
<circle cx="395.4" cy="598.9" r="2.7" fill="rgba(238,104,160,0.62)"/>
<circle cx="422.1" cy="605.8" r="2.7" fill="rgba(238,104,160,0.62)"/>
<circle cx="398.8" cy="553.7" r="2.7" fill="rgba(74,178,222,0.58)"/>
<circle cx="372.3" cy="634.0" r="2.7" fill="rgba(238,104,160,0.62)"/>
<circle cx="379.9" cy="577.9" r="2.7" fill="rgba(74,178,222,0.58)"/>
<circle cx="440.0" cy="570.0" r="2.7" fill="rgba(74,178,222,0.58)"/>
<circle cx="385.4" cy="608.7" r="2.7" fill="rgba(238,104,160,0.62)"/>
<circle cx="383.3" cy="571.1" r="2.7" fill="rgba(74,178,222,0.58)"/>
<circle cx="403.6" cy="604.9" r="2.7" fill="rgba(238,104,160,0.62)"/>
<circle cx="369.2" cy="607.6" r="2.7" fill="rgba(74,178,222,0.58)"/>
<circle cx="422.6" cy="611.4" r="2.7" fill="rgba(238,104,160,0.62)"/>
<circle cx="357.5" cy="619.8" r="2.7" fill="rgba(74,178,222,0.58)"/>
<circle cx="424.3" cy="596.6" r="2.7" fill="rgba(238,104,160,0.62)"/>
<circle cx="391.9" cy="580.1" r="2.7" fill="rgba(74,178,222,0.58)"/>
<circle cx="377.2" cy="623.2" r="2.7" fill="rgba(238,104,160,0.62)"/>
<circle cx="416.1" cy="565.1" r="2.7" fill="rgba(74,178,222,0.58)"/>
<circle cx="404.7" cy="618.7" r="2.7" fill="rgba(238,104,160,0.62)"/>
<circle cx="410.8" cy="585.2" r="2.7" fill="rgba(74,178,222,0.58)"/>
<circle cx="404.6" cy="602.9" r="2.7" fill="rgba(238,104,160,0.62)"/>
<circle cx="469.0" cy="548.1" r="2.7" fill="rgba(74,178,222,0.58)"/>
<circle cx="387.0" cy="563.3" r="2.7" fill="rgba(74,178,222,0.58)"/>
<circle cx="420.9" cy="561.0" r="2.7" fill="rgba(74,178,222,0.58)"/>
<circle cx="399.0" cy="605.1" r="2.7" fill="rgba(238,104,160,0.62)"/>
<circle cx="419.0" cy="590.5" r="2.7" fill="rgba(238,104,160,0.62)"/>
<circle cx="405.0" cy="574.2" r="2.7" fill="rgba(74,178,222,0.58)"/>
<circle cx="363.2" cy="615.9" r="2.7" fill="rgba(74,178,222,0.58)"/>
<circle cx="400.9" cy="584.6" r="2.7" fill="rgba(74,178,222,0.58)"/>
<circle cx="400.0" cy="573.0" r="2.7" fill="rgba(74,178,222,0.58)"/>
<circle cx="395.5" cy="616.0" r="2.7" fill="rgba(238,104,160,0.62)"/>
<circle cx="414.1" cy="584.0" r="2.7" fill="rgba(238,104,160,0.62)"/>
<circle cx="360.8" cy="619.1" r="2.7" fill="rgba(74,178,222,0.58)"/>
<circle cx="415.9" cy="619.9" r="2.7" fill="rgba(238,104,160,0.62)"/>
<circle cx="383.3" cy="560.0" r="2.7" fill="rgba(74,178,222,0.58)"/>
<circle cx="481.3" cy="550.2" r="2.7" fill="rgba(74,178,222,0.58)"/>
<circle cx="369.3" cy="628.9" r="2.7" fill="rgba(238,104,160,0.62)"/>
<circle cx="400.5" cy="565.0" r="2.7" fill="rgba(74,178,222,0.58)"/>
<circle cx="392.7" cy="582.1" r="2.7" fill="rgba(74,178,222,0.58)"/>
<circle cx="377.9" cy="577.1" r="2.7" fill="rgba(74,178,222,0.58)"/>
<circle cx="382.6" cy="563.7" r="2.7" fill="rgba(74,178,222,0.58)"/>
<circle cx="420.5" cy="559.4" r="2.7" fill="rgba(74,178,222,0.58)"/>
<circle cx="393.3" cy="593.5" r="2.7" fill="rgba(74,178,222,0.58)"/>
<circle cx="434.0" cy="612.0" r="2.7" fill="rgba(238,104,160,0.62)"/>
<circle cx="363.8" cy="630.3" r="2.7" fill="rgba(238,104,160,0.62)"/>
<circle cx="462.9" cy="518.5" r="2.7" fill="rgba(74,178,222,0.58)"/>
<circle cx="377.6" cy="616.0" r="2.7" fill="rgba(238,104,160,0.62)"/>
<circle cx="405.8" cy="605.5" r="2.7" fill="rgba(238,104,160,0.62)"/>
<circle cx="397.3" cy="580.0" r="2.7" fill="rgba(74,178,222,0.58)"/>
<circle cx="402.0" cy="570.0" r="2.7" fill="rgba(74,178,222,0.58)"/>
<circle cx="380.8" cy="632.5" r="2.7" fill="rgba(238,104,160,0.62)"/>
<circle cx="392.7" cy="626.5" r="2.7" fill="rgba(238,104,160,0.62)"/>
<circle cx="397.8" cy="574.1" r="2.7" fill="rgba(74,178,222,0.58)"/>
<circle cx="398.0" cy="590.0" r="2.7" fill="rgba(74,178,222,0.58)"/>
<circle cx="383.4" cy="574.0" r="2.7" fill="rgba(74,178,222,0.58)"/>
<circle cx="389.4" cy="625.5" r="2.7" fill="rgba(238,104,160,0.62)"/>
<circle cx="366.4" cy="613.4" r="2.7" fill="rgba(74,178,222,0.58)"/>
<circle cx="376.2" cy="587.4" r="2.7" fill="rgba(74,178,222,0.58)"/>
<circle cx="413.2" cy="599.3" r="2.7" fill="rgba(238,104,160,0.62)"/>
<circle cx="413.1" cy="606.7" r="2.7" fill="rgba(238,104,160,0.62)"/>
<circle cx="418.0" cy="600.0" r="2.7" fill="rgba(74,178,222,0.58)"/>
<circle cx="374.1" cy="592.6" r="2.7" fill="rgba(74,178,222,0.58)"/>
<circle cx="389.5" cy="616.9" r="2.7" fill="rgba(238,104,160,0.62)"/>
<circle cx="388.1" cy="601.1" r="2.7" fill="rgba(74,178,222,0.58)"/>
<circle cx="400.0" cy="552.6" r="2.7" fill="rgba(74,178,222,0.58)"/>
<circle cx="402.5" cy="586.4" r="2.7" fill="rgba(74,178,222,0.58)"/>
<circle cx="373.7" cy="615.0" r="2.7" fill="rgba(238,104,160,0.62)"/>
<circle cx="390.4" cy="620.4" r="2.7" fill="rgba(238,104,160,0.62)"/>
<circle cx="377.5" cy="581.8" r="2.7" fill="rgba(74,178,222,0.58)"/>
<circle cx="395.4" cy="560.8" r="2.7" fill="rgba(74,178,222,0.58)"/>
<circle cx="376.4" cy="629.9" r="2.7" fill="rgba(238,104,160,0.62)"/>
<circle cx="398.5" cy="573.9" r="2.7" fill="rgba(74,178,222,0.58)"/>
<circle cx="444.2" cy="615.1" r="2.7" fill="rgba(238,104,160,0.62)"/>
<circle cx="414.5" cy="623.3" r="2.7" fill="rgba(238,104,160,0.62)"/>
<circle cx="420.7" cy="558.6" r="2.7" fill="rgba(74,178,222,0.58)"/>
<circle cx="369.9" cy="631.6" r="2.7" fill="rgba(238,104,160,0.62)"/>
<circle cx="403.6" cy="562.6" r="2.7" fill="rgba(74,178,222,0.58)"/>
<circle cx="383.5" cy="593.9" r="2.7" fill="rgba(74,178,222,0.58)"/>
<circle cx="387.3" cy="611.2" r="2.7" fill="rgba(238,104,160,0.62)"/>
<circle cx="401.4" cy="617.2" r="2.7" fill="rgba(238,104,160,0.62)"/>
<circle cx="385.1" cy="591.2" r="2.7" fill="rgba(74,178,222,0.58)"/>
<circle cx="365.9" cy="631.2" r="2.7" fill="rgba(238,104,160,0.62)"/>
<circle cx="376.9" cy="613.8" r="2.7" fill="rgba(238,104,160,0.62)"/>
<circle cx="419.4" cy="591.7" r="2.7" fill="rgba(238,104,160,0.62)"/>
<circle cx="387.2" cy="594.0" r="2.7" fill="rgba(74,178,222,0.58)"/>
<circle cx="396.2" cy="592.1" r="2.7" fill="rgba(74,178,222,0.58)"/>
<circle cx="378.6" cy="569.6" r="2.7" fill="rgba(74,178,222,0.58)"/>
<circle cx="410.6" cy="585.2" r="2.7" fill="rgba(74,178,222,0.58)"/>
<circle cx="423.1" cy="599.4" r="2.7" fill="rgba(238,104,160,0.62)"/>
<circle cx="376.7" cy="584.8" r="2.7" fill="rgba(74,178,222,0.58)"/>
<circle cx="428.0" cy="588.0" r="2.7" fill="rgba(74,178,222,0.58)"/>
<circle cx="425.0" cy="544.3" r="2.7" fill="rgba(74,178,222,0.58)"/>
<circle cx="443.0" cy="543.0" r="2.7" fill="rgba(74,178,222,0.58)"/>
<circle cx="375.0" cy="584.2" r="2.7" fill="rgba(74,178,222,0.58)"/>
<circle cx="418.9" cy="576.3" r="2.7" fill="rgba(74,178,222,0.58)"/>
<circle cx="418.4" cy="589.6" r="2.7" fill="rgba(238,104,160,0.62)"/>
<circle cx="433.0" cy="566.0" r="2.7" fill="rgba(74,178,222,0.58)"/>
<circle cx="400.8" cy="599.3" r="2.7" fill="rgba(238,104,160,0.62)"/>
<circle cx="410.7" cy="567.8" r="2.7" fill="rgba(74,178,222,0.58)"/>
<circle cx="407.1" cy="591.7" r="2.7" fill="rgba(74,178,222,0.58)"/>
<circle cx="446.7" cy="558.0" r="2.7" fill="rgba(74,178,222,0.58)"/>
<circle cx="429.4" cy="593.5" r="2.7" fill="rgba(238,104,160,0.62)"/>
<circle cx="402.1" cy="614.9" r="2.7" fill="rgba(238,104,160,0.62)"/>
<circle cx="399.6" cy="600.6" r="2.7" fill="rgba(238,104,160,0.62)"/>
<circle cx="383.5" cy="573.8" r="2.7" fill="rgba(74,178,222,0.58)"/>
<circle cx="440.0" cy="578.0" r="2.7" fill="rgba(74,178,222,0.58)"/>
<circle cx="416.9" cy="611.0" r="2.7" fill="rgba(238,104,160,0.62)"/>
<circle cx="399.2" cy="558.4" r="2.7" fill="rgba(74,178,222,0.58)"/>
<circle cx="375.9" cy="595.2" r="2.7" fill="rgba(74,178,222,0.58)"/>
<circle cx="386.7" cy="564.1" r="2.7" fill="rgba(74,178,222,0.58)"/>
<circle cx="370.5" cy="623.6" r="2.7" fill="rgba(238,104,160,0.62)"/>
<circle cx="405.5" cy="583.5" r="2.7" fill="rgba(74,178,222,0.58)"/>
<circle cx="412.9" cy="606.0" r="2.7" fill="rgba(238,104,160,0.62)"/>
<circle cx="408.0" cy="604.0" r="2.7" fill="rgba(74,178,222,0.58)"/>
<circle cx="404.6" cy="565.1" r="2.7" fill="rgba(74,178,222,0.58)"/>
<circle cx="378.7" cy="567.2" r="2.7" fill="rgba(74,178,222,0.58)"/>
<circle cx="446.6" cy="557.7" r="2.7" fill="rgba(74,178,222,0.58)"/>
<circle cx="384.5" cy="558.2" r="2.7" fill="rgba(74,178,222,0.58)"/>
<circle cx="361.1" cy="627.0" r="2.7" fill="rgba(74,178,222,0.58)"/>
<circle cx="386.8" cy="566.9" r="2.7" fill="rgba(74,178,222,0.58)"/>
<circle cx="400.3" cy="584.8" r="2.7" fill="rgba(74,178,222,0.58)"/>
<circle cx="416.2" cy="593.8" r="2.7" fill="rgba(238,104,160,0.62)"/>
<circle cx="388.8" cy="598.1" r="2.7" fill="rgba(74,178,222,0.58)"/>
<circle cx="384.5" cy="589.6" r="2.7" fill="rgba(74,178,222,0.58)"/>
<circle cx="387.3" cy="602.1" r="2.7" fill="rgba(74,178,222,0.58)"/>
<circle cx="438.0" cy="604.0" r="2.7" fill="rgba(238,104,160,0.62)"/>
<circle cx="404.2" cy="607.2" r="2.7" fill="rgba(238,104,160,0.62)"/>
<circle cx="384.9" cy="577.6" r="2.7" fill="rgba(74,178,222,0.58)"/>
<circle cx="416.7" cy="572.9" r="2.7" fill="rgba(74,178,222,0.58)"/>
<circle cx="388.1" cy="628.8" r="2.7" fill="rgba(238,104,160,0.62)"/>
<circle cx="362.4" cy="614.4" r="2.7" fill="rgba(74,178,222,0.58)"/>
<circle cx="393.1" cy="625.4" r="2.7" fill="rgba(238,104,160,0.62)"/>
<circle cx="395.3" cy="602.0" r="2.7" fill="rgba(238,104,160,0.62)"/>
<circle cx="401.6" cy="592.8" r="2.7" fill="rgba(238,104,160,0.62)"/>
<circle cx="379.0" cy="582.3" r="2.7" fill="rgba(74,178,222,0.58)"/>
<circle cx="396.6" cy="631.1" r="2.7" fill="rgba(238,104,160,0.62)"/>
<circle cx="405.5" cy="589.1" r="2.7" fill="rgba(74,178,222,0.58)"/>
<circle cx="419.7" cy="570.3" r="2.7" fill="rgba(74,178,222,0.58)"/>
<circle cx="418.1" cy="570.1" r="2.7" fill="rgba(74,178,222,0.58)"/>
<circle cx="419.2" cy="557.1" r="2.7" fill="rgba(74,178,222,0.58)"/>
<circle cx="407.2" cy="546.7" r="2.7" fill="rgba(74,178,222,0.58)"/>
<circle cx="500.3" cy="572.3" r="2.7" fill="rgba(238,104,160,0.62)"/>
<circle cx="399.4" cy="541.8" r="2.7" fill="rgba(74,178,222,0.58)"/>
<circle cx="395.3" cy="591.5" r="2.7" fill="rgba(74,178,222,0.58)"/>
<circle cx="410.7" cy="596.1" r="2.7" fill="rgba(238,104,160,0.62)"/>
<circle cx="422.9" cy="560.9" r="2.7" fill="rgba(74,178,222,0.58)"/>
<circle cx="418.7" cy="563.7" r="2.7" fill="rgba(74,178,222,0.58)"/>
<circle cx="400.2" cy="598.3" r="2.7" fill="rgba(238,104,160,0.62)"/>
<circle cx="408.2" cy="591.8" r="2.7" fill="rgba(238,104,160,0.62)"/>
<circle cx="473.1" cy="547.7" r="2.7" fill="rgba(238,104,160,0.62)"/>
<circle cx="403.4" cy="549.7" r="2.7" fill="rgba(74,178,222,0.58)"/>
<circle cx="412.3" cy="623.2" r="2.7" fill="rgba(238,104,160,0.62)"/>
<circle cx="368.0" cy="631.6" r="2.7" fill="rgba(238,104,160,0.62)"/>
<circle cx="351.7" cy="629.8" r="2.7" fill="rgba(74,178,222,0.58)"/>
<circle cx="416.4" cy="550.6" r="2.7" fill="rgba(74,178,222,0.58)"/>
<circle cx="404.2" cy="586.8" r="2.7" fill="rgba(74,178,222,0.58)"/>
<circle cx="389.7" cy="579.4" r="2.7" fill="rgba(74,178,222,0.58)"/>
<circle cx="410.8" cy="572.5" r="2.7" fill="rgba(74,178,222,0.58)"/>
<circle cx="400.9" cy="628.8" r="2.7" fill="rgba(238,104,160,0.62)"/>
<circle cx="384.7" cy="622.5" r="2.7" fill="rgba(238,104,160,0.62)"/>
<circle cx="423.4" cy="561.7" r="2.7" fill="rgba(74,178,222,0.58)"/>
<circle cx="448.6" cy="572.0" r="2.7" fill="rgba(74,178,222,0.58)"/>
<circle cx="364.6" cy="612.7" r="2.7" fill="rgba(74,178,222,0.58)"/>
<circle cx="398.2" cy="554.2" r="2.7" fill="rgba(74,178,222,0.58)"/>
<circle cx="390.0" cy="566.0" r="2.7" fill="rgba(74,178,222,0.58)"/>
<circle cx="412.2" cy="559.8" r="2.7" fill="rgba(74,178,222,0.58)"/>
<circle cx="436.0" cy="584.0" r="2.7" fill="rgba(74,178,222,0.58)"/>
<circle cx="372.8" cy="614.2" r="2.7" fill="rgba(238,104,160,0.62)"/>
<circle cx="428.0" cy="578.0" r="2.7" fill="rgba(74,178,222,0.58)"/>
<circle cx="411.3" cy="561.9" r="2.7" fill="rgba(74,178,222,0.58)"/>
<circle cx="418.2" cy="591.3" r="2.7" fill="rgba(238,104,160,0.62)"/>
<circle cx="416.3" cy="609.7" r="2.7" fill="rgba(238,104,160,0.62)"/>
<circle cx="425.8" cy="590.8" r="2.7" fill="rgba(238,104,160,0.62)"/>
<circle cx="383.6" cy="577.2" r="2.7" fill="rgba(74,178,222,0.58)"/>
<circle cx="426.8" cy="601.7" r="2.7" fill="rgba(238,104,160,0.62)"/>
<circle cx="412.2" cy="573.3" r="2.7" fill="rgba(74,178,222,0.58)"/>
<circle cx="414.4" cy="536.7" r="2.7" fill="rgba(74,178,222,0.58)"/>
<circle cx="412.2" cy="625.2" r="2.7" fill="rgba(238,104,160,0.62)"/>
<circle cx="399.2" cy="580.6" r="2.7" fill="rgba(74,178,222,0.58)"/>
<circle cx="403.2" cy="552.3" r="2.7" fill="rgba(74,178,222,0.58)"/>
<circle cx="389.1" cy="560.6" r="2.7" fill="rgba(74,178,222,0.58)"/>
<circle cx="418.7" cy="595.4" r="2.7" fill="rgba(238,104,160,0.62)"/>
<circle cx="394.9" cy="576.2" r="2.7" fill="rgba(74,178,222,0.58)"/>
<circle cx="381.1" cy="570.1" r="2.7" fill="rgba(74,178,222,0.58)"/>
<circle cx="412.0" cy="594.0" r="2.7" fill="rgba(74,178,222,0.58)"/>
<circle cx="451.1" cy="609.2" r="2.7" fill="rgba(238,104,160,0.62)"/>
<circle cx="374.6" cy="612.9" r="2.7" fill="rgba(238,104,160,0.62)"/>
<circle cx="373.2" cy="598.4" r="2.7" fill="rgba(74,178,222,0.58)"/>
<circle cx="405.1" cy="601.1" r="2.7" fill="rgba(238,104,160,0.62)"/>
<circle cx="411.9" cy="592.8" r="2.7" fill="rgba(238,104,160,0.62)"/>
<circle cx="397.6" cy="554.7" r="2.7" fill="rgba(74,178,222,0.58)"/>
<circle cx="409.4" cy="626.8" r="2.7" fill="rgba(238,104,160,0.62)"/>
<circle cx="377.7" cy="576.5" r="2.7" fill="rgba(74,178,222,0.58)"/>
<circle cx="369.4" cy="609.6" r="2.7" fill="rgba(74,178,222,0.58)"/>
<circle cx="405.3" cy="586.8" r="2.7" fill="rgba(238,104,160,0.62)"/>
<circle cx="522.3" cy="543.6" r="2.7" fill="rgba(238,104,160,0.62)"/>
<circle cx="412.1" cy="558.3" r="2.7" fill="rgba(74,178,222,0.58)"/>
<circle cx="409.3" cy="615.6" r="2.7" fill="rgba(238,104,160,0.62)"/>
<circle cx="391.2" cy="581.9" r="2.7" fill="rgba(74,178,222,0.58)"/>
<circle cx="417.0" cy="596.0" r="2.7" fill="rgba(238,104,160,0.62)"/>
<circle cx="414.0" cy="590.4" r="2.7" fill="rgba(238,104,160,0.62)"/>
<circle cx="392.9" cy="587.2" r="2.7" fill="rgba(74,178,222,0.58)"/>
<circle cx="386.6" cy="580.9" r="2.7" fill="rgba(74,178,222,0.58)"/>
<circle cx="420.0" cy="590.0" r="2.7" fill="rgba(74,178,222,0.58)"/>
<circle cx="378.8" cy="576.0" r="2.7" fill="rgba(74,178,222,0.58)"/>
<circle cx="428.4" cy="589.2" r="2.7" fill="rgba(238,104,160,0.62)"/>
<circle cx="422.5" cy="558.2" r="2.7" fill="rgba(74,178,222,0.58)"/>
<circle cx="407.9" cy="554.8" r="2.7" fill="rgba(74,178,222,0.58)"/>
<circle cx="382.8" cy="621.7" r="2.7" fill="rgba(238,104,160,0.62)"/>
<circle cx="404.4" cy="598.2" r="2.7" fill="rgba(238,104,160,0.62)"/>
<circle cx="426.5" cy="602.6" r="2.7" fill="rgba(238,104,160,0.62)"/>
<circle cx="406.2" cy="592.8" r="2.7" fill="rgba(238,104,160,0.62)"/>
<circle cx="450.2" cy="586.6" r="2.7" fill="rgba(238,104,160,0.62)"/>
<circle cx="354.8" cy="632.7" r="2.7" fill="rgba(74,178,222,0.58)"/>
<circle cx="357.8" cy="619.9" r="2.7" fill="rgba(74,178,222,0.58)"/>
<circle cx="410.6" cy="570.2" r="2.7" fill="rgba(74,178,222,0.58)"/>
<circle cx="398.0" cy="604.0" r="2.7" fill="rgba(74,178,222,0.58)"/>
<circle cx="428.0" cy="587.6" r="2.7" fill="rgba(238,104,160,0.62)"/>
<circle cx="398.9" cy="560.3" r="2.7" fill="rgba(74,178,222,0.58)"/>
<circle cx="416.0" cy="568.2" r="2.7" fill="rgba(238,104,160,0.62)"/>
<circle cx="377.3" cy="596.7" r="2.7" fill="rgba(74,178,222,0.58)"/>
<circle cx="406.2" cy="572.9" r="2.7" fill="rgba(74,178,222,0.58)"/>
<circle cx="414.6" cy="549.9" r="2.7" fill="rgba(74,178,222,0.58)"/>
<circle cx="421.9" cy="569.4" r="2.7" fill="rgba(74,178,222,0.58)"/>
<circle cx="406.7" cy="551.5" r="2.7" fill="rgba(74,178,222,0.58)"/>
<circle cx="355.4" cy="628.7" r="2.7" fill="rgba(74,178,222,0.58)"/>
<circle cx="413.0" cy="584.6" r="2.7" fill="rgba(238,104,160,0.62)"/>
<circle cx="428.0" cy="622.0" r="2.7" fill="rgba(238,104,160,0.62)"/>
<circle cx="466.6" cy="565.9" r="2.7" fill="rgba(238,104,160,0.62)"/>
<circle cx="413.9" cy="566.6" r="2.7" fill="rgba(74,178,222,0.58)"/>
<circle cx="395.2" cy="630.8" r="2.7" fill="rgba(238,104,160,0.62)"/>
<circle cx="411.1" cy="566.1" r="2.7" fill="rgba(74,178,222,0.58)"/>
<circle cx="386.0" cy="566.8" r="2.7" fill="rgba(92,84,84,0.72)"/>
<circle cx="380.5" cy="575.5" r="2.7" fill="rgba(92,84,84,0.72)"/>
<circle cx="381.2" cy="572.2" r="2.7" fill="rgba(92,84,84,0.72)"/>
<circle cx="356.7" cy="611.3" r="2.7" fill="rgba(92,84,84,0.72)"/>
<circle cx="362.0" cy="607.8" r="2.7" fill="rgba(92,84,84,0.72)"/>
<circle cx="384.7" cy="572.7" r="2.7" fill="rgba(92,84,84,0.72)"/>
<circle cx="369.3" cy="586.2" r="2.7" fill="rgba(92,84,84,0.72)"/>
<circle cx="359.3" cy="604.6" r="2.7" fill="rgba(92,84,84,0.72)"/>
<circle cx="380.0" cy="576.6" r="2.7" fill="rgba(92,84,84,0.72)"/>
<circle cx="363.9" cy="599.4" r="2.7" fill="rgba(92,84,84,0.72)"/>
<circle cx="388.0" cy="568.3" r="2.7" fill="rgba(92,84,84,0.72)"/>
<circle cx="373.7" cy="582.8" r="2.7" fill="rgba(92,84,84,0.72)"/>
<circle cx="370.4" cy="595.9" r="2.7" fill="rgba(92,84,84,0.72)"/>
<circle cx="375.4" cy="574.6" r="2.7" fill="rgba(92,84,84,0.72)"/>
<circle cx="362.1" cy="607.3" r="2.7" fill="rgba(92,84,84,0.72)"/>
<circle cx="381.0" cy="568.6" r="2.7" fill="rgba(92,84,84,0.72)"/>
<circle cx="361.3" cy="616.5" r="2.7" fill="rgba(92,84,84,0.72)"/>
<circle cx="367.7" cy="585.4" r="2.7" fill="rgba(92,84,84,0.72)"/>
<circle cx="355.1" cy="611.9" r="2.7" fill="rgba(92,84,84,0.72)"/>
<circle cx="352.4" cy="630.1" r="2.7" fill="rgba(92,84,84,0.72)"/>
<circle cx="350.7" cy="631.8" r="2.7" fill="rgba(92,84,84,0.72)"/>
<circle cx="363.8" cy="600.8" r="2.7" fill="rgba(92,84,84,0.72)"/>
<circle cx="364.1" cy="602.2" r="2.7" fill="rgba(92,84,84,0.72)"/>
<circle cx="369.8" cy="588.3" r="2.7" fill="rgba(92,84,84,0.72)"/>
<circle cx="351.2" cy="627.1" r="2.7" fill="rgba(92,84,84,0.72)"/>
<circle cx="367.9" cy="598.6" r="2.7" fill="rgba(92,84,84,0.72)"/>
<circle cx="364.7" cy="610.7" r="2.7" fill="rgba(92,84,84,0.72)"/>
<circle cx="353.5" cy="615.9" r="2.7" fill="rgba(92,84,84,0.72)"/>
<circle cx="373.3" cy="591.9" r="2.7" fill="rgba(92,84,84,0.72)"/>
<circle cx="370.9" cy="593.6" r="2.7" fill="rgba(92,84,84,0.72)"/>
<circle cx="362.4" cy="614.3" r="2.7" fill="rgba(92,84,84,0.72)"/>
<circle cx="376.2" cy="572.1" r="2.7" fill="rgba(92,84,84,0.72)"/>
<circle cx="378.9" cy="582.5" r="2.7" fill="rgba(92,84,84,0.72)"/>
<circle cx="370.4" cy="596.9" r="2.7" fill="rgba(92,84,84,0.72)"/>
<circle cx="385.4" cy="565.7" r="2.7" fill="rgba(92,84,84,0.72)"/>
<circle cx="373.0" cy="589.2" r="2.7" fill="rgba(92,84,84,0.72)"/>
<circle cx="391.2" cy="525.2" r="2.7" fill="rgba(92,84,84,0.72)"/>
<circle cx="400.7" cy="549.2" r="2.7" fill="rgba(92,84,84,0.72)"/>
<circle cx="384.7" cy="559.0" r="2.7" fill="rgba(92,84,84,0.72)"/>
<circle cx="379.8" cy="570.0" r="2.7" fill="rgba(92,84,84,0.72)"/>
<circle cx="384.7" cy="570.0" r="2.7" fill="rgba(92,84,84,0.72)"/>
<circle cx="384.7" cy="576.2" r="2.7" fill="rgba(92,84,84,0.72)"/>
<circle cx="374.9" cy="578.6" r="2.7" fill="rgba(92,84,84,0.72)"/>
<line x1="345.5" y1="636.0" x2="454.2" y2="499.7" stroke="#727272" stroke-width="1.4" stroke-dasharray="4,2"/>
<line x1="345.5" y1="636.0" x2="476.6" y2="499.7" stroke="#111" stroke-width="1.7" stroke-dasharray="4.5,2.2"/>
<line x1="345.5" y1="636.0" x2="557.8" y2="499.7" stroke="#5aa63e" stroke-width="1.4" stroke-dasharray="4,2.2"/>
<circle cx="600.9" cy="524.7" r="2.9" fill="#5da84a" stroke="#263b1e" stroke-width="0.8"/>
<circle cx="546.5" cy="535.7" r="2.9" fill="#5da84a" stroke="#263b1e" stroke-width="0.8"/>
<circle cx="553.1" cy="541.5" r="2.9" fill="#5da84a" stroke="#263b1e" stroke-width="0.8"/>
<circle cx="635.1" cy="542.8" r="2.9" fill="#5da84a" stroke="#263b1e" stroke-width="0.8"/>
<circle cx="507.6" cy="555.4" r="2.9" fill="#5da84a" stroke="#263b1e" stroke-width="0.8"/>
<circle cx="566.0" cy="569.9" r="2.9" fill="#5da84a" stroke="#263b1e" stroke-width="0.8"/>
<circle cx="534.7" cy="578.3" r="2.9" fill="#5da84a" stroke="#263b1e" stroke-width="0.8"/>
<circle cx="486.8" cy="544.0" r="2.9" fill="#5da84a" stroke="#263b1e" stroke-width="0.8"/>
<circle cx="459.4" cy="558.0" r="2.9" fill="#5da84a" stroke="#263b1e" stroke-width="0.8"/>
<circle cx="431.6" cy="554.9" r="2.9" fill="#5da84a" stroke="#263b1e" stroke-width="0.8"/>
<circle cx="490.5" cy="578.2" r="2.9" fill="#5da84a" stroke="#263b1e" stroke-width="0.8"/>
<circle cx="412.9" cy="559.9" r="2.9" fill="#5da84a" stroke="#263b1e" stroke-width="0.8"/>
<circle cx="431.1" cy="555.0" r="2.9" fill="#5da84a" stroke="#263b1e" stroke-width="0.8"/>
<circle cx="424.0" cy="567.2" r="2.9" fill="#5da84a" stroke="#263b1e" stroke-width="0.8"/>
<circle cx="430.0" cy="568.3" r="2.9" fill="#5da84a" stroke="#263b1e" stroke-width="0.8"/>
<circle cx="417.8" cy="573.2" r="2.9" fill="#5da84a" stroke="#263b1e" stroke-width="0.8"/>
<circle cx="422.2" cy="576.1" r="2.9" fill="#5da84a" stroke="#263b1e" stroke-width="0.8"/>
<circle cx="426.0" cy="571.0" r="2.9" fill="#5da84a" stroke="#263b1e" stroke-width="0.8"/>
<circle cx="420.0" cy="570.0" r="2.9" fill="#5da84a" stroke="#263b1e" stroke-width="0.8"/>
<circle cx="428.0" cy="575.0" r="2.9" fill="#5da84a" stroke="#263b1e" stroke-width="0.8"/>
<circle cx="407.8" cy="591.3" r="2.9" fill="#5da84a" stroke="#263b1e" stroke-width="0.8"/>
<circle cx="367.3" cy="612.4" r="2.8" fill="#f6c416" stroke="#3a3010" stroke-width="0.8"/>
<circle cx="378.4" cy="605.0" r="2.8" fill="#f6c416" stroke="#3a3010" stroke-width="0.8"/>
<circle cx="393.7" cy="603.2" r="2.8" fill="#f6c416" stroke="#3a3010" stroke-width="0.8"/>
<circle cx="401.7" cy="584.6" r="2.7" fill="#fff" stroke="#333" stroke-width="0.8"/>
<text x="366.0" y="622.2" font-size="7.6" fill="#3a2a32" text-anchor="start" font-weight="bold" font-style="normal" >Su</text>
<text x="380.8" y="613.8" font-size="7.6" fill="#3a2a32" text-anchor="start" font-weight="bold" font-style="normal" >Sy</text>
<text x="396.1" y="609.6" font-size="7.6" fill="#3a2a32" text-anchor="start" font-weight="bold" font-style="normal" >Jó</text>
<text x="404.9" y="584.6" font-size="8.2" fill="#2a2a2a" text-anchor="start" font-weight="bold" font-style="normal" >BP</text>
<text x="406.9" y="509.4" font-size="8.2" fill="#333" text-anchor="start" font-weight="normal" font-style="normal" >H/W=0.13</text>
<text x="475.4" y="509.4" font-size="8.2" fill="#333" text-anchor="start" font-weight="normal" font-style="normal" >H/W=0.12</text>
<text x="556.2" y="509.4" font-size="8.2" fill="#333" text-anchor="start" font-weight="normal" font-style="normal" >H/W=0.07</text>
</g>
<rect x="541.2" y="577.8" width="113.3" height="58.2" fill="#fff" stroke="#222" stroke-width="1.5"/>
<rect x="544.3" y="589.0" width="17.4" height="8.9" fill="#f4a870"/>
<rect x="544.3" y="616.0" width="17.4" height="8.9" fill="#f1c1c3"/>
<text x="565.6" y="591.3" font-size="8.5" fill="#222" text-anchor="start" font-weight="normal" font-style="normal" >Flat-topped volcanoes</text>
<text x="565.6" y="600.4" font-size="8.5" fill="#222" text-anchor="start" font-weight="normal" font-style="normal" >(Clague et al., 2000)</text>
<text x="565.6" y="618.3" font-size="8.5" fill="#222" text-anchor="start" font-weight="normal" font-style="normal" >Shield volcanoes</text>
<text x="565.6" y="627.3" font-size="8.5" fill="#222" text-anchor="start" font-weight="normal" font-style="normal" >(Rossi, 1996)</text>
<line x1="344.5" y1="499.7" x2="344.5" y2="636.7" stroke="#1c1c1c" stroke-width="1.5"/>
<line x1="344.5" y1="636.1" x2="654.5" y2="636.1" stroke="#1c1c1c" stroke-width="1.5"/>
<line x1="654.4" y1="499.7" x2="654.4" y2="636.7" stroke="#1c1c1c" stroke-width="1.5"/>
<line x1="389.6" y1="636.1" x2="389.6" y2="640" stroke="#1c1c1c" stroke-width="1"/>
<line x1="411.6" y1="636.1" x2="411.6" y2="640" stroke="#1c1c1c" stroke-width="1"/>
<line x1="433.7" y1="636.1" x2="433.7" y2="640" stroke="#1c1c1c" stroke-width="1"/>
<line x1="477.8" y1="636.1" x2="477.8" y2="640" stroke="#1c1c1c" stroke-width="1"/>
<line x1="521.9" y1="636.1" x2="521.9" y2="640" stroke="#1c1c1c" stroke-width="1"/>
<line x1="566.0" y1="636.1" x2="566.0" y2="640" stroke="#1c1c1c" stroke-width="1"/>
<line x1="610.1" y1="636.1" x2="610.1" y2="640" stroke="#1c1c1c" stroke-width="1"/>
<line x1="654.2" y1="636.1" x2="654.2" y2="640" stroke="#1c1c1c" stroke-width="1"/>
<text x="389.6" y="648.1" font-size="8.6" fill="#595959" text-anchor="middle" font-weight="normal" font-style="normal" >1000</text>
<text x="433.7" y="648.1" font-size="8.6" fill="#595959" text-anchor="middle" font-weight="normal" font-style="normal" >2000</text>
<text x="477.8" y="648.1" font-size="8.6" fill="#595959" text-anchor="middle" font-weight="normal" font-style="normal" >3000</text>
<text x="566.0" y="648.1" font-size="8.6" fill="#595959" text-anchor="middle" font-weight="normal" font-style="normal" >5000</text>
<text x="610.1" y="648.1" font-size="8.6" fill="#595959" text-anchor="middle" font-weight="normal" font-style="normal" >6000</text>
<text x="654.2" y="648.1" font-size="8.6" fill="#595959" text-anchor="middle" font-weight="normal" font-style="normal" >7000</text>
<text x="517.2" y="648.6" font-size="8.9" fill="#595959" text-anchor="middle" font-weight="normal" font-style="normal" >Width (m)</text>
<line x1="654.4" y1="636.0" x2="658" y2="636.0" stroke="#1c1c1c" stroke-width="1"/>
<text x="659.0" y="639.0" font-size="8.6" fill="#595959" text-anchor="start" font-weight="normal" font-style="normal" >0</text>
<line x1="654.4" y1="616.6" x2="658" y2="616.6" stroke="#1c1c1c" stroke-width="1"/>
<text x="659.0" y="619.6" font-size="8.6" fill="#595959" text-anchor="start" font-weight="normal" font-style="normal" >50</text>
<line x1="654.4" y1="597.3" x2="658" y2="597.3" stroke="#1c1c1c" stroke-width="1"/>
<text x="659.0" y="600.3" font-size="8.6" fill="#595959" text-anchor="start" font-weight="normal" font-style="normal" >100</text>
<line x1="654.4" y1="578.0" x2="658" y2="578.0" stroke="#1c1c1c" stroke-width="1"/>
<text x="659.0" y="581.0" font-size="8.6" fill="#595959" text-anchor="start" font-weight="normal" font-style="normal" >150</text>
<line x1="654.4" y1="558.6" x2="658" y2="558.6" stroke="#1c1c1c" stroke-width="1"/>
<text x="659.0" y="561.6" font-size="8.6" fill="#595959" text-anchor="start" font-weight="normal" font-style="normal" >200</text>
<line x1="654.4" y1="539.2" x2="658" y2="539.2" stroke="#1c1c1c" stroke-width="1"/>
<text x="659.0" y="542.2" font-size="8.6" fill="#595959" text-anchor="start" font-weight="normal" font-style="normal" >250</text>
<line x1="654.4" y1="519.9" x2="658" y2="519.9" stroke="#1c1c1c" stroke-width="1"/>
<text x="659.0" y="522.9" font-size="8.6" fill="#595959" text-anchor="start" font-weight="normal" font-style="normal" >300</text>
<text x="0" y="0" font-size="8.6" fill="#595959" text-anchor="middle" transform="translate(679.5,577.5) rotate(90)">Height (m)</text>
</svg></body></html>
